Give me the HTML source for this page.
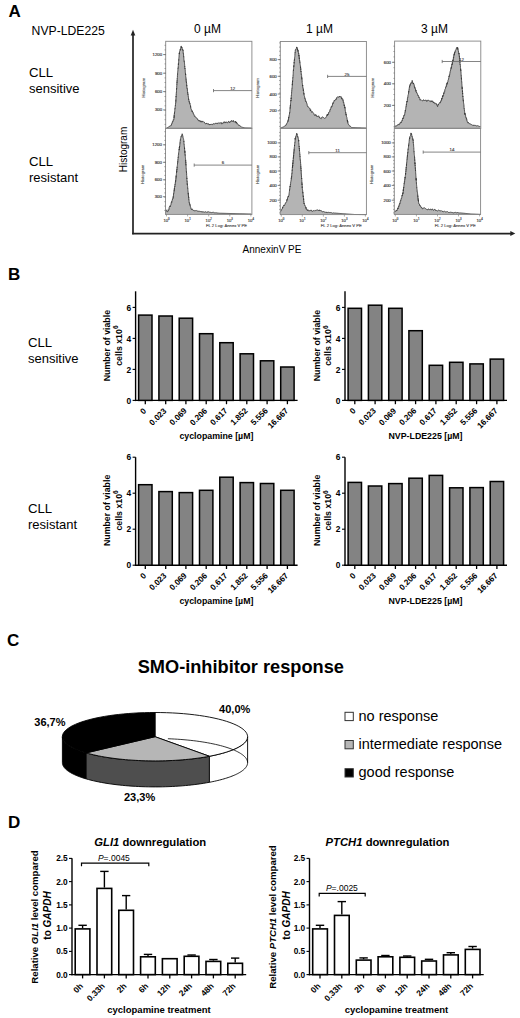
<!DOCTYPE html>
<html><head><meta charset="utf-8"><title>Figure</title>
<style>
html,body{margin:0;padding:0;background:#fff;}
body{width:520px;height:1018px;overflow:hidden;}
svg{display:block;font-family:"Liberation Sans", sans-serif;}
</style></head>
<body>
<svg width="520" height="1018" viewBox="0 0 520 1018">
<rect width="520" height="1018" fill="#fff"/>
<text x="8.4" y="16.9" font-size="17" font-weight="bold" text-anchor="start" fill="#000">A</text>
<text x="31.6" y="35.3" font-size="12.2" text-anchor="start" fill="#000">NVP-LDE225</text>
<text x="29" y="76.8" font-size="13.2" text-anchor="start" fill="#000">CLL</text>
<text x="29" y="92.5" font-size="13" text-anchor="start" fill="#000">sensitive</text>
<text x="29" y="165.8" font-size="13.2" text-anchor="start" fill="#000">CLL</text>
<text x="29" y="182" font-size="13" text-anchor="start" fill="#000">resistant</text>
<text x="207.5" y="33.3" font-size="12" text-anchor="middle" fill="#000">0 µM</text>
<text x="319.5" y="33.3" font-size="12" text-anchor="middle" fill="#000">1 µM</text>
<text x="434.5" y="33.3" font-size="12" text-anchor="middle" fill="#000">3 µM</text>
<line x1="133" y1="34" x2="133" y2="234.3" stroke="#222" stroke-width="1.7"/>
<path d="M133 29.8 L130.7 35.6 L135.3 35.6 Z" fill="#222"/>
<line x1="132.15" y1="233.6" x2="511.5" y2="233.6" stroke="#222" stroke-width="1.7"/>
<path d="M515.3 233.6 L510.3 231.1 L510.3 236.1 Z" fill="#222"/>
<text x="126.8" y="149.5" font-size="10" text-anchor="middle" fill="#000" transform="rotate(-90 126.8 149.5)">Histogram</text>
<text x="272" y="252.9" font-size="10" text-anchor="middle" fill="#000">AnnexinV PE</text>
<path d="M166.5 128.3 L166.5 128.1 L167.01 127.83 L167.52 127.57 L168.03 127.3 L168.54 127.03 L169.06 126.68 L169.57 126.29 L170.08 126.34 L170.59 125.63 L171.1 125.73 L171.32 125.02 L171.55 124.07 L171.78 124.09 L172.0 122.8 L172.22 122.87 L172.45 121.61 L172.68 121.09 L172.9 121.22 L173.12 121.48 L173.35 119.53 L173.58 119.19 L173.8 119.45 L173.86 119.54 L173.93 118.25 L173.99 117.33 L174.05 117.94 L174.12 115.53 L174.18 116.6 L174.24 114.91 L174.31 114.06 L174.37 113.46 L174.43 113.28 L174.5 113.75 L174.56 111.92 L174.62 112.17 L174.69 111.73 L174.75 110.64 L174.81 110.44 L174.88 108.92 L174.94 108.36 L175.0 108.1 L175.07 108.49 L175.13 107.44 L175.19 106.65 L175.26 106.64 L175.32 105.83 L175.38 104.97 L175.45 105.4 L175.51 104.66 L175.57 103.19 L175.64 103.3 L175.7 102.65 L175.74 102.8 L175.77 101.95 L175.81 100.51 L175.84 101.34 L175.88 99.07 L175.92 99.11 L175.95 99.24 L175.99 97.47 L176.02 97.59 L176.06 96.14 L176.1 96.84 L176.13 96.48 L176.17 95.54 L176.2 95.59 L176.24 93.92 L176.28 94.13 L176.31 93.37 L176.35 92.79 L176.38 91.99 L176.42 92.2 L176.46 91.86 L176.49 90.36 L176.53 90.19 L176.56 88.43 L176.6 89.15 L176.64 88.49 L176.67 88.63 L176.71 87.73 L176.74 86.1 L176.78 85.75 L176.82 85.76 L176.85 83.92 L176.89 84.24 L176.92 83.1 L176.96 82.44 L177.0 81.77 L177.03 82.64 L177.07 80.81 L177.1 80.49 L177.14 80.22 L177.18 80.63 L177.21 78.49 L177.25 78.68 L177.28 78.32 L177.32 78.44 L177.36 77.75 L177.39 77.29 L177.43 75.56 L177.46 75.28 L177.5 74.62 L177.55 75.12 L177.59 74.71 L177.64 72.54 L177.69 72.04 L177.74 71.6 L177.78 71.05 L177.83 71.0 L177.88 70.66 L177.93 69.45 L177.97 68.38 L178.02 68.66 L178.07 68.01 L178.12 67.85 L178.16 68.07 L178.21 66.99 L178.26 66.09 L178.31 65.74 L178.35 65.31 L178.4 63.51 L178.45 64.65 L178.5 63.86 L178.55 63.49 L178.59 62.79 L178.64 61.42 L178.69 60.89 L178.74 59.74 L178.78 60.25 L178.83 58.55 L178.88 58.01 L178.93 57.74 L178.97 57.1 L179.02 56.9 L179.07 55.77 L179.12 55.12 L179.16 54.87 L179.21 54.21 L179.26 54.18 L179.31 52.96 L179.35 54.1 L179.4 53.03 L179.55 51.56 L179.7 51.22 L179.85 50.87 L180.0 50.36 L180.15 49.34 L180.3 50.25 L180.45 49.99 L180.6 48.4 L180.75 47.89 L180.9 46.56 L181.05 46.05 L181.2 45.99 L181.41 46.34 L181.62 47.98 L181.83 47.16 L182.04 47.39 L182.26 49.76 L182.47 49.42 L182.68 49.17 L182.89 50.48 L183.1 49.95 L183.16 51.51 L183.22 52.96 L183.28 53.29 L183.34 53.51 L183.4 53.19 L183.46 53.95 L183.52 54.11 L183.58 55.87 L183.64 55.95 L183.7 56.99 L183.76 56.65 L183.82 56.99 L183.88 58.72 L183.94 59.62 L184.0 59.91 L184.06 60.37 L184.12 60.94 L184.18 61.34 L184.24 60.87 L184.3 62.0 L184.36 62.23 L184.42 62.13 L184.48 62.68 L184.54 63.74 L184.6 64.25 L184.66 65.67 L184.72 66.75 L184.78 66.29 L184.84 67.82 L184.9 68.48 L184.96 68.97 L185.02 68.35 L185.07 68.62 L185.13 69.2 L185.19 69.7 L185.25 70.27 L185.3 71.67 L185.36 72.79 L185.42 73.23 L185.48 73.07 L185.53 73.97 L185.59 74.83 L185.65 73.96 L185.71 75.67 L185.76 76.73 L185.82 77.03 L185.88 77.53 L185.94 77.55 L185.99 77.51 L186.05 79.29 L186.11 78.94 L186.17 80.43 L186.22 81.34 L186.28 80.75 L186.34 81.32 L186.4 82.97 L186.45 83.09 L186.51 82.54 L186.57 83.01 L186.63 83.62 L186.68 85.69 L186.74 86.05 L186.8 85.29 L186.88 87.21 L186.96 88.08 L187.03 88.0 L187.11 87.94 L187.19 88.9 L187.27 88.63 L187.35 88.95 L187.43 91.43 L187.5 91.35 L187.58 91.66 L187.66 93.04 L187.74 92.6 L187.82 94.03 L187.9 94.5 L187.97 93.84 L188.05 94.48 L188.13 95.12 L188.21 95.58 L188.29 96.83 L188.37 96.74 L188.44 97.62 L188.52 97.6 L188.6 99.72 L188.74 99.16 L188.88 99.93 L189.02 100.73 L189.16 101.93 L189.3 101.52 L189.44 103.07 L189.58 102.79 L189.72 103.4 L189.86 103.94 L190.0 103.49 L190.14 104.89 L190.28 104.93 L190.42 105.12 L190.56 107.27 L190.7 106.57 L190.84 107.73 L190.98 108.79 L191.12 109.0 L191.26 109.1 L191.4 110.04 L191.68 110.61 L191.97 111.57 L192.25 110.71 L192.54 112.12 L192.82 112.0 L193.11 112.55 L193.39 114.04 L193.68 114.02 L193.96 114.62 L194.25 115.52 L194.53 116.32 L194.82 115.89 L195.1 116.73 L195.51 116.92 L195.92 117.35 L196.33 118.12 L196.74 118.05 L197.16 118.62 L197.57 118.92 L197.98 120.26 L198.39 120.19 L198.8 120.95 L199.3 121.33 L199.8 120.21 L200.3 121.06 L200.8 122.07 L201.3 122.11 L201.8 120.95 L202.3 121.16 L202.8 122.05 L203.3 121.57 L203.8 122.17 L204.3 122.13 L204.85 123.35 L205.4 123.68 L205.95 124.01 L206.5 122.95 L207.05 123.98 L207.6 124.04 L208.15 123.43 L208.7 124.64 L209.25 124.88 L209.8 124.04 L210.36 124.94 L210.92 124.14 L211.48 124.2 L212.04 124.84 L212.6 124.57 L213.16 123.56 L213.72 123.88 L214.28 123.94 L214.84 123.62 L215.4 123.34 L215.97 123.45 L216.54 124.01 L217.11 122.84 L217.68 123.61 L218.25 123.36 L218.82 122.6 L219.38 123.04 L219.95 123.45 L220.52 123.2 L221.09 122.35 L221.66 123.89 L222.23 123.48 L222.8 123.75 L223.35 122.09 L223.9 122.28 L224.45 121.76 L225.0 123.08 L225.55 122.0 L226.1 121.63 L226.65 122.11 L227.2 123.0 L227.75 122.73 L228.3 121.52 L228.85 121.21 L229.4 122.66 L229.95 121.87 L230.5 122.04 L231.05 120.73 L231.6 120.58 L232.15 121.75 L232.7 121.13 L233.25 120.33 L233.8 121.98 L234.43 121.67 L235.07 122.3 L235.7 121.17 L236.1 123.1 L236.5 122.01 L236.9 123.82 L237.3 123.53 L237.7 123.77 L238.1 124.47 L238.5 125.3 L238.95 124.92 L239.4 125.19 L239.85 125.92 L240.3 126.09 L240.75 126.42 L241.2 127.0 L241.82 127.15 L242.43 127.3 L243.05 127.45 L243.67 127.6 L244.28 127.75 L244.9 127.9 L245.45 127.92 L246.0 127.93 L246.55 127.95 L247.1 127.97 L247.65 127.98 L248.2 128.0 L248.75 128.02 L249.3 128.03 L249.85 128.05 L250.4 128.07 L250.95 128.08 L251.5 128.1 L251.5 128.3 Z" fill="#b4b4b4" stroke="none"/>
<path d="M166.5 128.1 L167.01 127.83 L167.52 127.57 L168.03 127.3 L168.54 127.03 L169.06 126.68 L169.57 126.29 L170.08 126.34 L170.59 125.63 L171.1 125.73 L171.32 125.02 L171.55 124.07 L171.78 124.09 L172.0 122.8 L172.22 122.87 L172.45 121.61 L172.68 121.09 L172.9 121.22 L173.12 121.48 L173.35 119.53 L173.58 119.19 L173.8 119.45 L173.86 119.54 L173.93 118.25 L173.99 117.33 L174.05 117.94 L174.12 115.53 L174.18 116.6 L174.24 114.91 L174.31 114.06 L174.37 113.46 L174.43 113.28 L174.5 113.75 L174.56 111.92 L174.62 112.17 L174.69 111.73 L174.75 110.64 L174.81 110.44 L174.88 108.92 L174.94 108.36 L175.0 108.1 L175.07 108.49 L175.13 107.44 L175.19 106.65 L175.26 106.64 L175.32 105.83 L175.38 104.97 L175.45 105.4 L175.51 104.66 L175.57 103.19 L175.64 103.3 L175.7 102.65 L175.74 102.8 L175.77 101.95 L175.81 100.51 L175.84 101.34 L175.88 99.07 L175.92 99.11 L175.95 99.24 L175.99 97.47 L176.02 97.59 L176.06 96.14 L176.1 96.84 L176.13 96.48 L176.17 95.54 L176.2 95.59 L176.24 93.92 L176.28 94.13 L176.31 93.37 L176.35 92.79 L176.38 91.99 L176.42 92.2 L176.46 91.86 L176.49 90.36 L176.53 90.19 L176.56 88.43 L176.6 89.15 L176.64 88.49 L176.67 88.63 L176.71 87.73 L176.74 86.1 L176.78 85.75 L176.82 85.76 L176.85 83.92 L176.89 84.24 L176.92 83.1 L176.96 82.44 L177.0 81.77 L177.03 82.64 L177.07 80.81 L177.1 80.49 L177.14 80.22 L177.18 80.63 L177.21 78.49 L177.25 78.68 L177.28 78.32 L177.32 78.44 L177.36 77.75 L177.39 77.29 L177.43 75.56 L177.46 75.28 L177.5 74.62 L177.55 75.12 L177.59 74.71 L177.64 72.54 L177.69 72.04 L177.74 71.6 L177.78 71.05 L177.83 71.0 L177.88 70.66 L177.93 69.45 L177.97 68.38 L178.02 68.66 L178.07 68.01 L178.12 67.85 L178.16 68.07 L178.21 66.99 L178.26 66.09 L178.31 65.74 L178.35 65.31 L178.4 63.51 L178.45 64.65 L178.5 63.86 L178.55 63.49 L178.59 62.79 L178.64 61.42 L178.69 60.89 L178.74 59.74 L178.78 60.25 L178.83 58.55 L178.88 58.01 L178.93 57.74 L178.97 57.1 L179.02 56.9 L179.07 55.77 L179.12 55.12 L179.16 54.87 L179.21 54.21 L179.26 54.18 L179.31 52.96 L179.35 54.1 L179.4 53.03 L179.55 51.56 L179.7 51.22 L179.85 50.87 L180.0 50.36 L180.15 49.34 L180.3 50.25 L180.45 49.99 L180.6 48.4 L180.75 47.89 L180.9 46.56 L181.05 46.05 L181.2 45.99 L181.41 46.34 L181.62 47.98 L181.83 47.16 L182.04 47.39 L182.26 49.76 L182.47 49.42 L182.68 49.17 L182.89 50.48 L183.1 49.95 L183.16 51.51 L183.22 52.96 L183.28 53.29 L183.34 53.51 L183.4 53.19 L183.46 53.95 L183.52 54.11 L183.58 55.87 L183.64 55.95 L183.7 56.99 L183.76 56.65 L183.82 56.99 L183.88 58.72 L183.94 59.62 L184.0 59.91 L184.06 60.37 L184.12 60.94 L184.18 61.34 L184.24 60.87 L184.3 62.0 L184.36 62.23 L184.42 62.13 L184.48 62.68 L184.54 63.74 L184.6 64.25 L184.66 65.67 L184.72 66.75 L184.78 66.29 L184.84 67.82 L184.9 68.48 L184.96 68.97 L185.02 68.35 L185.07 68.62 L185.13 69.2 L185.19 69.7 L185.25 70.27 L185.3 71.67 L185.36 72.79 L185.42 73.23 L185.48 73.07 L185.53 73.97 L185.59 74.83 L185.65 73.96 L185.71 75.67 L185.76 76.73 L185.82 77.03 L185.88 77.53 L185.94 77.55 L185.99 77.51 L186.05 79.29 L186.11 78.94 L186.17 80.43 L186.22 81.34 L186.28 80.75 L186.34 81.32 L186.4 82.97 L186.45 83.09 L186.51 82.54 L186.57 83.01 L186.63 83.62 L186.68 85.69 L186.74 86.05 L186.8 85.29 L186.88 87.21 L186.96 88.08 L187.03 88.0 L187.11 87.94 L187.19 88.9 L187.27 88.63 L187.35 88.95 L187.43 91.43 L187.5 91.35 L187.58 91.66 L187.66 93.04 L187.74 92.6 L187.82 94.03 L187.9 94.5 L187.97 93.84 L188.05 94.48 L188.13 95.12 L188.21 95.58 L188.29 96.83 L188.37 96.74 L188.44 97.62 L188.52 97.6 L188.6 99.72 L188.74 99.16 L188.88 99.93 L189.02 100.73 L189.16 101.93 L189.3 101.52 L189.44 103.07 L189.58 102.79 L189.72 103.4 L189.86 103.94 L190.0 103.49 L190.14 104.89 L190.28 104.93 L190.42 105.12 L190.56 107.27 L190.7 106.57 L190.84 107.73 L190.98 108.79 L191.12 109.0 L191.26 109.1 L191.4 110.04 L191.68 110.61 L191.97 111.57 L192.25 110.71 L192.54 112.12 L192.82 112.0 L193.11 112.55 L193.39 114.04 L193.68 114.02 L193.96 114.62 L194.25 115.52 L194.53 116.32 L194.82 115.89 L195.1 116.73 L195.51 116.92 L195.92 117.35 L196.33 118.12 L196.74 118.05 L197.16 118.62 L197.57 118.92 L197.98 120.26 L198.39 120.19 L198.8 120.95 L199.3 121.33 L199.8 120.21 L200.3 121.06 L200.8 122.07 L201.3 122.11 L201.8 120.95 L202.3 121.16 L202.8 122.05 L203.3 121.57 L203.8 122.17 L204.3 122.13 L204.85 123.35 L205.4 123.68 L205.95 124.01 L206.5 122.95 L207.05 123.98 L207.6 124.04 L208.15 123.43 L208.7 124.64 L209.25 124.88 L209.8 124.04 L210.36 124.94 L210.92 124.14 L211.48 124.2 L212.04 124.84 L212.6 124.57 L213.16 123.56 L213.72 123.88 L214.28 123.94 L214.84 123.62 L215.4 123.34 L215.97 123.45 L216.54 124.01 L217.11 122.84 L217.68 123.61 L218.25 123.36 L218.82 122.6 L219.38 123.04 L219.95 123.45 L220.52 123.2 L221.09 122.35 L221.66 123.89 L222.23 123.48 L222.8 123.75 L223.35 122.09 L223.9 122.28 L224.45 121.76 L225.0 123.08 L225.55 122.0 L226.1 121.63 L226.65 122.11 L227.2 123.0 L227.75 122.73 L228.3 121.52 L228.85 121.21 L229.4 122.66 L229.95 121.87 L230.5 122.04 L231.05 120.73 L231.6 120.58 L232.15 121.75 L232.7 121.13 L233.25 120.33 L233.8 121.98 L234.43 121.67 L235.07 122.3 L235.7 121.17 L236.1 123.1 L236.5 122.01 L236.9 123.82 L237.3 123.53 L237.7 123.77 L238.1 124.47 L238.5 125.3 L238.95 124.92 L239.4 125.19 L239.85 125.92 L240.3 126.09 L240.75 126.42 L241.2 127.0 L241.82 127.15 L242.43 127.3 L243.05 127.45 L243.67 127.6 L244.28 127.75 L244.9 127.9 L245.45 127.92 L246.0 127.93 L246.55 127.95 L247.1 127.97 L247.65 127.98 L248.2 128.0 L248.75 128.02 L249.3 128.03 L249.85 128.05 L250.4 128.07 L250.95 128.08 L251.5 128.1" fill="none" stroke="#333" stroke-width="0.85"/>
<rect x="165.7" y="41.3" width="86.2" height="87.0" fill="none" stroke="#858585" stroke-width="0.9"/>
<line x1="213.5" y1="90.6" x2="251.9" y2="90.6" stroke="#666" stroke-width="0.8"/>
<line x1="213.5" y1="89.0" x2="213.5" y2="92.19999999999999" stroke="#666" stroke-width="0.8"/>
<text x="232.7" y="89.8" font-size="4.4" text-anchor="middle" fill="#444" stroke="#444" stroke-width="0.15">12</text>
<line x1="163.1" y1="54.6" x2="165.7" y2="54.6" stroke="#555" stroke-width="0.7"/>
<text x="162.1" y="56.1" font-size="4.3" text-anchor="end" fill="#444" stroke="#444" stroke-width="0.18">1200</text>
<line x1="163.1" y1="73.2" x2="165.7" y2="73.2" stroke="#555" stroke-width="0.7"/>
<text x="162.1" y="74.7" font-size="4.3" text-anchor="end" fill="#444" stroke="#444" stroke-width="0.18">900</text>
<line x1="163.1" y1="91.6" x2="165.7" y2="91.6" stroke="#555" stroke-width="0.7"/>
<text x="162.1" y="93.1" font-size="4.3" text-anchor="end" fill="#444" stroke="#444" stroke-width="0.18">600</text>
<line x1="163.1" y1="109.9" x2="165.7" y2="109.9" stroke="#555" stroke-width="0.7"/>
<text x="162.1" y="111.4" font-size="4.3" text-anchor="end" fill="#444" stroke="#444" stroke-width="0.18">300</text>
<line x1="164.5" y1="45.3" x2="165.7" y2="45.3" stroke="#666" stroke-width="0.6"/>
<line x1="164.5" y1="49.9" x2="165.7" y2="49.9" stroke="#666" stroke-width="0.6"/>
<line x1="164.5" y1="54.6" x2="165.7" y2="54.6" stroke="#666" stroke-width="0.6"/>
<line x1="164.5" y1="59.2" x2="165.7" y2="59.2" stroke="#666" stroke-width="0.6"/>
<line x1="164.5" y1="63.9" x2="165.7" y2="63.9" stroke="#666" stroke-width="0.6"/>
<line x1="164.5" y1="68.5" x2="165.7" y2="68.5" stroke="#666" stroke-width="0.6"/>
<line x1="164.5" y1="73.2" x2="165.7" y2="73.2" stroke="#666" stroke-width="0.6"/>
<line x1="164.5" y1="77.9" x2="165.7" y2="77.9" stroke="#666" stroke-width="0.6"/>
<line x1="164.5" y1="82.5" x2="165.7" y2="82.5" stroke="#666" stroke-width="0.6"/>
<line x1="164.5" y1="87.2" x2="165.7" y2="87.2" stroke="#666" stroke-width="0.6"/>
<line x1="164.5" y1="91.8" x2="165.7" y2="91.8" stroke="#666" stroke-width="0.6"/>
<line x1="164.5" y1="96.5" x2="165.7" y2="96.5" stroke="#666" stroke-width="0.6"/>
<line x1="164.5" y1="101.1" x2="165.7" y2="101.1" stroke="#666" stroke-width="0.6"/>
<line x1="164.5" y1="105.8" x2="165.7" y2="105.8" stroke="#666" stroke-width="0.6"/>
<line x1="164.5" y1="110.4" x2="165.7" y2="110.4" stroke="#666" stroke-width="0.6"/>
<line x1="164.5" y1="115.1" x2="165.7" y2="115.1" stroke="#666" stroke-width="0.6"/>
<line x1="164.5" y1="119.7" x2="165.7" y2="119.7" stroke="#666" stroke-width="0.6"/>
<line x1="164.5" y1="124.4" x2="165.7" y2="124.4" stroke="#666" stroke-width="0.6"/>
<text x="144.7" y="87.80000000000001" font-size="4.3" text-anchor="middle" fill="#555" transform="rotate(-90 144.7 87.80000000000001)" stroke="#555" stroke-width="0.12">Histogram</text>
<path d="M280.5 128.3 L280.5 128.1 L281.02 127.89 L281.54 127.68 L282.07 127.47 L282.59 127.26 L283.11 127.04 L283.63 126.83 L284.16 126.43 L284.68 126.13 L285.2 125.99 L285.5 125.57 L285.8 125.07 L286.1 125.1 L286.4 124.06 L286.7 123.87 L287.0 122.87 L287.3 122.66 L287.6 121.53 L287.9 121.5 L288.01 120.46 L288.11 121.33 L288.22 120.4 L288.32 119.11 L288.43 119.12 L288.53 119.47 L288.64 117.25 L288.74 118.1 L288.85 116.76 L288.96 116.32 L289.06 116.44 L289.17 114.99 L289.27 114.65 L289.38 114.44 L289.48 114.46 L289.59 112.62 L289.69 113.03 L289.8 112.21 L289.85 111.51 L289.91 110.49 L289.96 109.82 L290.02 108.68 L290.07 108.27 L290.13 107.6 L290.18 108.38 L290.24 106.85 L290.29 106.11 L290.35 105.39 L290.4 106.35 L290.45 105.85 L290.51 104.89 L290.56 103.56 L290.62 102.92 L290.67 102.46 L290.73 102.24 L290.78 101.08 L290.84 101.1 L290.89 100.17 L290.95 101.01 L291.0 100.48 L291.05 99.07 L291.11 97.91 L291.16 98.79 L291.22 96.92 L291.27 96.46 L291.33 95.19 L291.38 95.39 L291.44 95.02 L291.49 94.52 L291.55 93.36 L291.6 93.41 L291.64 91.85 L291.69 91.81 L291.73 90.91 L291.78 90.97 L291.82 89.69 L291.87 89.1 L291.91 89.1 L291.95 88.4 L292.0 88.55 L292.04 87.88 L292.09 87.76 L292.13 87.02 L292.17 86.58 L292.22 86.34 L292.26 84.81 L292.31 84.12 L292.35 84.88 L292.4 82.65 L292.44 83.24 L292.48 82.52 L292.53 80.77 L292.57 81.79 L292.62 81.35 L292.66 80.26 L292.7 79.91 L292.75 79.51 L292.79 77.61 L292.84 77.82 L292.88 77.22 L292.93 77.33 L292.97 76.71 L293.01 76.19 L293.06 75.15 L293.1 75.21 L293.15 74.23 L293.19 73.69 L293.23 72.21 L293.28 71.25 L293.32 70.9 L293.37 70.8 L293.41 69.73 L293.46 70.63 L293.5 69.52 L293.55 69.09 L293.61 68.53 L293.66 68.08 L293.72 67.14 L293.77 65.6 L293.83 66.63 L293.88 65.97 L293.94 64.92 L293.99 64.42 L294.05 64.11 L294.1 62.37 L294.15 63.15 L294.21 61.62 L294.26 60.7 L294.32 60.52 L294.37 60.89 L294.43 59.28 L294.48 59.79 L294.54 59.7 L294.59 58.18 L294.65 57.39 L294.7 57.02 L294.75 56.87 L294.81 56.48 L294.86 55.62 L294.92 55.11 L294.97 53.42 L295.03 53.0 L295.08 52.65 L295.14 53.07 L295.19 51.63 L295.25 51.6 L295.3 49.92 L295.51 49.45 L295.73 49.29 L295.94 49.53 L296.16 49.0 L296.37 48.39 L296.59 47.05 L296.8 46.93 L296.96 47.37 L297.13 47.91 L297.29 47.75 L297.45 49.83 L297.62 48.98 L297.78 51.07 L297.95 51.53 L298.11 50.23 L298.27 51.65 L298.44 52.9 L298.6 53.74 L298.67 53.25 L298.75 53.44 L298.82 53.88 L298.89 55.9 L298.97 54.99 L299.04 56.28 L299.11 55.96 L299.19 57.27 L299.26 58.69 L299.33 57.6 L299.41 59.53 L299.48 59.46 L299.55 60.77 L299.63 60.95 L299.7 60.56 L299.77 62.45 L299.85 62.18 L299.92 61.81 L299.99 62.32 L300.07 63.85 L300.14 64.32 L300.21 64.58 L300.29 64.81 L300.36 65.77 L300.43 66.27 L300.51 67.87 L300.58 66.74 L300.65 68.79 L300.73 69.52 L300.8 68.64 L300.86 70.81 L300.93 70.93 L300.99 71.86 L301.05 71.19 L301.12 71.91 L301.18 72.51 L301.24 74.27 L301.31 74.01 L301.37 74.1 L301.43 74.79 L301.5 75.04 L301.56 75.14 L301.62 75.8 L301.69 77.82 L301.75 77.27 L301.81 79.12 L301.88 78.31 L301.94 78.89 L302.0 79.94 L302.07 79.85 L302.13 80.77 L302.19 82.49 L302.26 82.9 L302.32 83.3 L302.38 83.5 L302.45 84.61 L302.51 85.22 L302.57 84.99 L302.64 85.89 L302.7 85.1 L302.79 87.02 L302.88 87.01 L302.97 88.17 L303.06 88.51 L303.15 88.35 L303.24 88.43 L303.33 90.74 L303.42 89.69 L303.51 90.94 L303.6 91.24 L303.69 91.7 L303.78 93.14 L303.87 94.17 L303.96 93.29 L304.05 94.64 L304.14 94.48 L304.23 95.55 L304.32 95.78 L304.41 95.88 L304.5 96.42 L304.69 97.07 L304.87 99.02 L305.06 98.75 L305.25 98.75 L305.43 100.68 L305.62 101.41 L305.81 100.87 L305.99 100.81 L306.18 101.46 L306.37 101.81 L306.55 102.87 L306.74 102.92 L306.93 103.77 L307.11 104.36 L307.3 105.54 L307.61 106.63 L307.92 106.82 L308.23 106.6 L308.53 107.06 L308.84 107.74 L309.15 107.9 L309.46 108.28 L309.77 108.19 L310.07 109.08 L310.38 110.92 L310.69 109.69 L311.0 110.91 L311.42 111.58 L311.84 112.46 L312.25 111.59 L312.67 112.11 L313.09 112.49 L313.51 113.21 L313.93 113.72 L314.35 115.15 L314.76 115.36 L315.18 115.83 L315.6 114.54 L316.11 114.77 L316.62 116.34 L317.13 116.92 L317.64 116.28 L318.15 116.72 L318.65 115.75 L319.16 116.75 L319.67 118.03 L320.18 118.03 L320.69 118.3 L321.2 118.74 L321.77 117.25 L322.35 116.92 L322.93 116.96 L323.5 117.64 L324.07 117.91 L324.65 118.38 L325.23 117.89 L325.8 117.69 L326.11 117.46 L326.42 116.38 L326.73 116.1 L327.03 114.61 L327.34 115.63 L327.65 114.07 L327.96 114.97 L328.27 113.96 L328.57 112.81 L328.88 111.99 L329.19 111.77 L329.5 112.07 L329.71 111.69 L329.91 110.0 L330.12 109.41 L330.32 109.8 L330.53 109.41 L330.73 108.51 L330.94 107.67 L331.14 107.91 L331.35 106.22 L331.56 106.29 L331.76 106.1 L331.97 106.58 L332.17 105.44 L332.38 105.41 L332.58 104.08 L332.79 103.09 L332.99 102.61 L333.2 103.52 L333.56 102.55 L333.92 101.29 L334.28 100.26 L334.64 100.76 L335.0 100.65 L335.36 99.68 L335.72 98.89 L336.08 99.25 L336.44 99.31 L336.8 97.45 L337.33 96.81 L337.86 97.16 L338.39 97.07 L338.91 97.34 L339.44 96.11 L339.97 97.05 L340.5 96.68 L340.84 96.72 L341.19 96.64 L341.53 98.68 L341.87 97.88 L342.21 99.41 L342.56 98.75 L342.9 99.24 L343.05 100.89 L343.19 100.53 L343.34 102.41 L343.48 102.07 L343.63 102.02 L343.78 102.66 L343.92 103.62 L344.07 104.68 L344.22 105.82 L344.36 104.79 L344.51 105.85 L344.65 106.06 L344.8 108.15 L344.9 107.05 L345.0 107.44 L345.1 108.02 L345.2 109.25 L345.3 110.83 L345.4 111.37 L345.5 111.63 L345.6 112.73 L345.7 113.16 L345.8 112.53 L345.9 112.8 L346.0 114.87 L346.1 115.06 L346.2 114.2 L346.3 116.03 L346.4 116.02 L346.5 116.58 L346.6 117.06 L346.75 117.31 L346.89 117.54 L347.04 118.67 L347.18 119.38 L347.33 121.16 L347.48 120.06 L347.62 122.31 L347.77 121.37 L347.92 122.25 L348.06 123.65 L348.21 124.16 L348.35 124.14 L348.5 124.27 L348.94 125.16 L349.39 125.46 L349.83 126.28 L350.27 126.14 L350.71 126.66 L351.16 127.11 L351.6 127.5 L352.16 127.52 L352.72 127.55 L353.28 127.57 L353.85 127.59 L354.41 127.62 L354.97 127.64 L355.53 127.66 L356.09 127.68 L356.65 127.71 L357.22 127.73 L357.78 127.75 L358.34 127.78 L358.9 127.8 L359.46 127.82 L360.02 127.85 L360.58 127.87 L361.15 127.89 L361.71 127.92 L362.27 127.94 L362.83 127.96 L363.39 127.98 L363.95 128.01 L364.52 128.03 L365.08 128.05 L365.64 128.08 L366.2 128.1 L366.2 128.3 Z" fill="#b4b4b4" stroke="none"/>
<path d="M280.5 128.1 L281.02 127.89 L281.54 127.68 L282.07 127.47 L282.59 127.26 L283.11 127.04 L283.63 126.83 L284.16 126.43 L284.68 126.13 L285.2 125.99 L285.5 125.57 L285.8 125.07 L286.1 125.1 L286.4 124.06 L286.7 123.87 L287.0 122.87 L287.3 122.66 L287.6 121.53 L287.9 121.5 L288.01 120.46 L288.11 121.33 L288.22 120.4 L288.32 119.11 L288.43 119.12 L288.53 119.47 L288.64 117.25 L288.74 118.1 L288.85 116.76 L288.96 116.32 L289.06 116.44 L289.17 114.99 L289.27 114.65 L289.38 114.44 L289.48 114.46 L289.59 112.62 L289.69 113.03 L289.8 112.21 L289.85 111.51 L289.91 110.49 L289.96 109.82 L290.02 108.68 L290.07 108.27 L290.13 107.6 L290.18 108.38 L290.24 106.85 L290.29 106.11 L290.35 105.39 L290.4 106.35 L290.45 105.85 L290.51 104.89 L290.56 103.56 L290.62 102.92 L290.67 102.46 L290.73 102.24 L290.78 101.08 L290.84 101.1 L290.89 100.17 L290.95 101.01 L291.0 100.48 L291.05 99.07 L291.11 97.91 L291.16 98.79 L291.22 96.92 L291.27 96.46 L291.33 95.19 L291.38 95.39 L291.44 95.02 L291.49 94.52 L291.55 93.36 L291.6 93.41 L291.64 91.85 L291.69 91.81 L291.73 90.91 L291.78 90.97 L291.82 89.69 L291.87 89.1 L291.91 89.1 L291.95 88.4 L292.0 88.55 L292.04 87.88 L292.09 87.76 L292.13 87.02 L292.17 86.58 L292.22 86.34 L292.26 84.81 L292.31 84.12 L292.35 84.88 L292.4 82.65 L292.44 83.24 L292.48 82.52 L292.53 80.77 L292.57 81.79 L292.62 81.35 L292.66 80.26 L292.7 79.91 L292.75 79.51 L292.79 77.61 L292.84 77.82 L292.88 77.22 L292.93 77.33 L292.97 76.71 L293.01 76.19 L293.06 75.15 L293.1 75.21 L293.15 74.23 L293.19 73.69 L293.23 72.21 L293.28 71.25 L293.32 70.9 L293.37 70.8 L293.41 69.73 L293.46 70.63 L293.5 69.52 L293.55 69.09 L293.61 68.53 L293.66 68.08 L293.72 67.14 L293.77 65.6 L293.83 66.63 L293.88 65.97 L293.94 64.92 L293.99 64.42 L294.05 64.11 L294.1 62.37 L294.15 63.15 L294.21 61.62 L294.26 60.7 L294.32 60.52 L294.37 60.89 L294.43 59.28 L294.48 59.79 L294.54 59.7 L294.59 58.18 L294.65 57.39 L294.7 57.02 L294.75 56.87 L294.81 56.48 L294.86 55.62 L294.92 55.11 L294.97 53.42 L295.03 53.0 L295.08 52.65 L295.14 53.07 L295.19 51.63 L295.25 51.6 L295.3 49.92 L295.51 49.45 L295.73 49.29 L295.94 49.53 L296.16 49.0 L296.37 48.39 L296.59 47.05 L296.8 46.93 L296.96 47.37 L297.13 47.91 L297.29 47.75 L297.45 49.83 L297.62 48.98 L297.78 51.07 L297.95 51.53 L298.11 50.23 L298.27 51.65 L298.44 52.9 L298.6 53.74 L298.67 53.25 L298.75 53.44 L298.82 53.88 L298.89 55.9 L298.97 54.99 L299.04 56.28 L299.11 55.96 L299.19 57.27 L299.26 58.69 L299.33 57.6 L299.41 59.53 L299.48 59.46 L299.55 60.77 L299.63 60.95 L299.7 60.56 L299.77 62.45 L299.85 62.18 L299.92 61.81 L299.99 62.32 L300.07 63.85 L300.14 64.32 L300.21 64.58 L300.29 64.81 L300.36 65.77 L300.43 66.27 L300.51 67.87 L300.58 66.74 L300.65 68.79 L300.73 69.52 L300.8 68.64 L300.86 70.81 L300.93 70.93 L300.99 71.86 L301.05 71.19 L301.12 71.91 L301.18 72.51 L301.24 74.27 L301.31 74.01 L301.37 74.1 L301.43 74.79 L301.5 75.04 L301.56 75.14 L301.62 75.8 L301.69 77.82 L301.75 77.27 L301.81 79.12 L301.88 78.31 L301.94 78.89 L302.0 79.94 L302.07 79.85 L302.13 80.77 L302.19 82.49 L302.26 82.9 L302.32 83.3 L302.38 83.5 L302.45 84.61 L302.51 85.22 L302.57 84.99 L302.64 85.89 L302.7 85.1 L302.79 87.02 L302.88 87.01 L302.97 88.17 L303.06 88.51 L303.15 88.35 L303.24 88.43 L303.33 90.74 L303.42 89.69 L303.51 90.94 L303.6 91.24 L303.69 91.7 L303.78 93.14 L303.87 94.17 L303.96 93.29 L304.05 94.64 L304.14 94.48 L304.23 95.55 L304.32 95.78 L304.41 95.88 L304.5 96.42 L304.69 97.07 L304.87 99.02 L305.06 98.75 L305.25 98.75 L305.43 100.68 L305.62 101.41 L305.81 100.87 L305.99 100.81 L306.18 101.46 L306.37 101.81 L306.55 102.87 L306.74 102.92 L306.93 103.77 L307.11 104.36 L307.3 105.54 L307.61 106.63 L307.92 106.82 L308.23 106.6 L308.53 107.06 L308.84 107.74 L309.15 107.9 L309.46 108.28 L309.77 108.19 L310.07 109.08 L310.38 110.92 L310.69 109.69 L311.0 110.91 L311.42 111.58 L311.84 112.46 L312.25 111.59 L312.67 112.11 L313.09 112.49 L313.51 113.21 L313.93 113.72 L314.35 115.15 L314.76 115.36 L315.18 115.83 L315.6 114.54 L316.11 114.77 L316.62 116.34 L317.13 116.92 L317.64 116.28 L318.15 116.72 L318.65 115.75 L319.16 116.75 L319.67 118.03 L320.18 118.03 L320.69 118.3 L321.2 118.74 L321.77 117.25 L322.35 116.92 L322.93 116.96 L323.5 117.64 L324.07 117.91 L324.65 118.38 L325.23 117.89 L325.8 117.69 L326.11 117.46 L326.42 116.38 L326.73 116.1 L327.03 114.61 L327.34 115.63 L327.65 114.07 L327.96 114.97 L328.27 113.96 L328.57 112.81 L328.88 111.99 L329.19 111.77 L329.5 112.07 L329.71 111.69 L329.91 110.0 L330.12 109.41 L330.32 109.8 L330.53 109.41 L330.73 108.51 L330.94 107.67 L331.14 107.91 L331.35 106.22 L331.56 106.29 L331.76 106.1 L331.97 106.58 L332.17 105.44 L332.38 105.41 L332.58 104.08 L332.79 103.09 L332.99 102.61 L333.2 103.52 L333.56 102.55 L333.92 101.29 L334.28 100.26 L334.64 100.76 L335.0 100.65 L335.36 99.68 L335.72 98.89 L336.08 99.25 L336.44 99.31 L336.8 97.45 L337.33 96.81 L337.86 97.16 L338.39 97.07 L338.91 97.34 L339.44 96.11 L339.97 97.05 L340.5 96.68 L340.84 96.72 L341.19 96.64 L341.53 98.68 L341.87 97.88 L342.21 99.41 L342.56 98.75 L342.9 99.24 L343.05 100.89 L343.19 100.53 L343.34 102.41 L343.48 102.07 L343.63 102.02 L343.78 102.66 L343.92 103.62 L344.07 104.68 L344.22 105.82 L344.36 104.79 L344.51 105.85 L344.65 106.06 L344.8 108.15 L344.9 107.05 L345.0 107.44 L345.1 108.02 L345.2 109.25 L345.3 110.83 L345.4 111.37 L345.5 111.63 L345.6 112.73 L345.7 113.16 L345.8 112.53 L345.9 112.8 L346.0 114.87 L346.1 115.06 L346.2 114.2 L346.3 116.03 L346.4 116.02 L346.5 116.58 L346.6 117.06 L346.75 117.31 L346.89 117.54 L347.04 118.67 L347.18 119.38 L347.33 121.16 L347.48 120.06 L347.62 122.31 L347.77 121.37 L347.92 122.25 L348.06 123.65 L348.21 124.16 L348.35 124.14 L348.5 124.27 L348.94 125.16 L349.39 125.46 L349.83 126.28 L350.27 126.14 L350.71 126.66 L351.16 127.11 L351.6 127.5 L352.16 127.52 L352.72 127.55 L353.28 127.57 L353.85 127.59 L354.41 127.62 L354.97 127.64 L355.53 127.66 L356.09 127.68 L356.65 127.71 L357.22 127.73 L357.78 127.75 L358.34 127.78 L358.9 127.8 L359.46 127.82 L360.02 127.85 L360.58 127.87 L361.15 127.89 L361.71 127.92 L362.27 127.94 L362.83 127.96 L363.39 127.98 L363.95 128.01 L364.52 128.03 L365.08 128.05 L365.64 128.08 L366.2 128.1" fill="none" stroke="#333" stroke-width="0.85"/>
<rect x="280.3" y="41.5" width="86.1" height="86.8" fill="none" stroke="#858585" stroke-width="0.9"/>
<line x1="327.6" y1="76.4" x2="366.4" y2="76.4" stroke="#666" stroke-width="0.8"/>
<line x1="327.6" y1="74.80000000000001" x2="327.6" y2="78.0" stroke="#666" stroke-width="0.8"/>
<text x="347.0" y="75.60000000000001" font-size="4.4" text-anchor="middle" fill="#444" stroke="#444" stroke-width="0.15">25</text>
<line x1="277.7" y1="59.6" x2="280.3" y2="59.6" stroke="#555" stroke-width="0.7"/>
<text x="276.7" y="61.1" font-size="4.3" text-anchor="end" fill="#444" stroke="#444" stroke-width="0.18">800</text>
<line x1="277.7" y1="76.3" x2="280.3" y2="76.3" stroke="#555" stroke-width="0.7"/>
<text x="276.7" y="77.8" font-size="4.3" text-anchor="end" fill="#444" stroke="#444" stroke-width="0.18">600</text>
<line x1="277.7" y1="94" x2="280.3" y2="94" stroke="#555" stroke-width="0.7"/>
<text x="276.7" y="95.5" font-size="4.3" text-anchor="end" fill="#444" stroke="#444" stroke-width="0.18">400</text>
<line x1="277.7" y1="110.8" x2="280.3" y2="110.8" stroke="#555" stroke-width="0.7"/>
<text x="276.7" y="112.3" font-size="4.3" text-anchor="end" fill="#444" stroke="#444" stroke-width="0.18">200</text>
<line x1="279.1" y1="42.9" x2="280.3" y2="42.9" stroke="#666" stroke-width="0.6"/>
<line x1="279.1" y1="47.1" x2="280.3" y2="47.1" stroke="#666" stroke-width="0.6"/>
<line x1="279.1" y1="51.2" x2="280.3" y2="51.2" stroke="#666" stroke-width="0.6"/>
<line x1="279.1" y1="55.4" x2="280.3" y2="55.4" stroke="#666" stroke-width="0.6"/>
<line x1="279.1" y1="59.6" x2="280.3" y2="59.6" stroke="#666" stroke-width="0.6"/>
<line x1="279.1" y1="63.8" x2="280.3" y2="63.8" stroke="#666" stroke-width="0.6"/>
<line x1="279.1" y1="67.9" x2="280.3" y2="67.9" stroke="#666" stroke-width="0.6"/>
<line x1="279.1" y1="72.1" x2="280.3" y2="72.1" stroke="#666" stroke-width="0.6"/>
<line x1="279.1" y1="76.3" x2="280.3" y2="76.3" stroke="#666" stroke-width="0.6"/>
<line x1="279.1" y1="80.5" x2="280.3" y2="80.5" stroke="#666" stroke-width="0.6"/>
<line x1="279.1" y1="84.6" x2="280.3" y2="84.6" stroke="#666" stroke-width="0.6"/>
<line x1="279.1" y1="88.8" x2="280.3" y2="88.8" stroke="#666" stroke-width="0.6"/>
<line x1="279.1" y1="93.0" x2="280.3" y2="93.0" stroke="#666" stroke-width="0.6"/>
<line x1="279.1" y1="97.2" x2="280.3" y2="97.2" stroke="#666" stroke-width="0.6"/>
<line x1="279.1" y1="101.3" x2="280.3" y2="101.3" stroke="#666" stroke-width="0.6"/>
<line x1="279.1" y1="105.5" x2="280.3" y2="105.5" stroke="#666" stroke-width="0.6"/>
<line x1="279.1" y1="109.7" x2="280.3" y2="109.7" stroke="#666" stroke-width="0.6"/>
<line x1="279.1" y1="113.9" x2="280.3" y2="113.9" stroke="#666" stroke-width="0.6"/>
<line x1="279.1" y1="118.0" x2="280.3" y2="118.0" stroke="#666" stroke-width="0.6"/>
<line x1="279.1" y1="122.2" x2="280.3" y2="122.2" stroke="#666" stroke-width="0.6"/>
<line x1="279.1" y1="126.4" x2="280.3" y2="126.4" stroke="#666" stroke-width="0.6"/>
<text x="259.3" y="87.9" font-size="4.3" text-anchor="middle" fill="#555" transform="rotate(-90 259.3 87.9)" stroke="#555" stroke-width="0.12">Histogram</text>
<path d="M394.6 128.3 L394.6 126.74 L395.13 125.97 L395.66 126.01 L396.19 126.11 L396.71 125.88 L397.24 124.99 L397.77 124.74 L398.3 124.52 L398.71 125.08 L399.12 123.77 L399.53 124.05 L399.94 123.9 L400.36 122.48 L400.77 121.88 L401.18 122.8 L401.59 121.68 L402.0 120.52 L402.2 120.9 L402.4 119.56 L402.6 118.94 L402.8 117.86 L403.0 118.83 L403.2 118.62 L403.4 117.52 L403.6 117.6 L403.8 115.23 L404.0 115.11 L404.2 115.06 L404.4 115.48 L404.6 114.94 L404.8 113.27 L404.9 112.46 L405.0 112.27 L405.1 111.85 L405.2 112.18 L405.3 110.14 L405.4 110.84 L405.5 110.17 L405.6 109.79 L405.7 109.15 L405.8 108.27 L405.9 107.17 L406.0 106.61 L406.1 106.15 L406.2 106.44 L406.3 104.49 L406.4 104.18 L406.5 104.75 L406.6 103.19 L406.7 102.29 L406.8 101.68 L406.9 102.17 L407.0 101.17 L407.1 101.94 L407.2 101.2 L407.3 100.86 L407.4 98.87 L407.5 97.97 L407.6 97.44 L407.69 97.68 L407.79 97.55 L407.88 96.47 L407.98 95.49 L408.08 95.3 L408.17 95.15 L408.27 94.7 L408.36 94.29 L408.46 93.93 L408.56 93.01 L408.65 91.37 L408.75 92.25 L408.84 90.6 L408.94 90.59 L409.04 89.65 L409.13 89.82 L409.23 88.19 L409.32 87.73 L409.42 87.17 L409.52 86.43 L409.61 87.34 L409.71 86.17 L409.8 85.11 L409.9 84.69 L410.23 85.36 L410.56 83.86 L410.89 82.78 L411.21 83.4 L411.54 82.56 L411.87 82.71 L412.2 80.4 L412.46 81.68 L412.71 82.9 L412.97 83.47 L413.23 84.14 L413.49 82.92 L413.74 83.96 L414.0 84.14 L414.19 84.83 L414.37 86.95 L414.56 86.73 L414.75 87.97 L414.93 87.41 L415.12 88.95 L415.31 88.67 L415.49 88.85 L415.68 90.44 L415.87 91.32 L416.05 90.2 L416.24 91.73 L416.43 92.33 L416.61 92.08 L416.8 92.94 L417.05 92.98 L417.29 93.59 L417.54 94.19 L417.79 95.37 L418.03 95.97 L418.28 95.57 L418.53 95.68 L418.77 96.8 L419.02 98.0 L419.27 97.5 L419.51 98.25 L419.76 98.53 L420.01 100.2 L420.25 100.2 L420.5 99.73 L421.07 99.8 L421.65 100.39 L422.23 100.7 L422.8 100.88 L423.38 99.78 L423.95 99.93 L424.53 100.99 L425.1 100.42 L425.68 100.17 L426.25 100.22 L426.82 101.51 L427.4 100.22 L427.98 100.73 L428.55 100.31 L429.12 100.43 L429.7 101.33 L430.21 101.8 L430.72 100.75 L431.23 100.63 L431.74 101.9 L432.26 101.06 L432.77 100.88 L433.28 102.88 L433.79 102.14 L434.3 103.14 L434.71 102.72 L435.12 104.09 L435.54 103.66 L435.95 103.48 L436.36 103.59 L436.78 105.08 L437.19 105.67 L437.6 106.62 L437.96 104.5 L438.31 105.09 L438.67 104.11 L439.02 103.9 L439.38 102.7 L439.73 102.5 L440.09 102.5 L440.44 102.83 L440.8 100.72 L440.99 100.95 L441.19 101.05 L441.38 100.84 L441.58 98.77 L441.77 98.1 L441.97 99.2 L442.16 98.73 L442.36 97.21 L442.55 95.82 L442.75 97.04 L442.94 95.43 L443.14 95.93 L443.33 94.83 L443.53 94.71 L443.72 92.85 L443.92 93.57 L444.11 91.91 L444.31 91.74 L444.5 92.09 L444.68 91.53 L444.85 89.71 L445.03 89.25 L445.2 89.09 L445.38 88.79 L445.56 88.0 L445.73 86.95 L445.91 86.67 L446.09 87.09 L446.26 86.91 L446.44 84.67 L446.61 85.18 L446.79 85.04 L446.97 83.08 L447.14 84.15 L447.32 82.18 L447.5 82.61 L447.67 81.99 L447.85 81.61 L448.02 80.44 L448.2 80.14 L448.33 79.92 L448.47 79.06 L448.6 78.97 L448.73 78.0 L448.87 77.44 L449.0 76.06 L449.13 76.7 L449.27 75.89 L449.4 74.84 L449.53 75.35 L449.67 74.83 L449.8 73.64 L449.93 72.53 L450.07 72.57 L450.2 71.29 L450.33 70.79 L450.47 70.84 L450.6 69.62 L450.73 69.77 L450.87 69.36 L451.0 67.87 L451.13 68.51 L451.27 66.86 L451.4 67.61 L451.53 67.15 L451.67 66.07 L451.8 64.61 L451.92 64.97 L452.03 64.18 L452.15 64.79 L452.27 62.62 L452.38 63.53 L452.5 63.27 L452.62 62.2 L452.73 61.83 L452.85 60.05 L452.97 61.09 L453.08 59.57 L453.2 59.96 L453.32 59.34 L453.43 57.31 L453.55 58.01 L453.67 57.76 L453.78 55.49 L453.9 55.53 L454.02 55.8 L454.13 54.07 L454.25 55.01 L454.37 53.22 L454.48 53.77 L454.6 51.89 L454.85 52.1 L455.11 52.44 L455.36 50.52 L455.62 50.13 L455.87 50.11 L456.13 49.24 L456.38 48.17 L456.64 47.96 L456.89 47.42 L457.15 48.47 L457.4 47.46 L457.54 48.46 L457.68 47.58 L457.82 49.38 L457.95 48.61 L458.09 50.01 L458.23 50.79 L458.37 50.8 L458.51 52.4 L458.65 52.33 L458.78 52.95 L458.92 54.13 L459.06 53.14 L459.2 55.49 L459.25 55.32 L459.31 55.4 L459.36 56.77 L459.42 56.26 L459.47 58.27 L459.53 58.0 L459.58 58.12 L459.64 59.49 L459.69 59.4 L459.75 59.43 L459.8 61.12 L459.85 60.29 L459.91 62.39 L459.96 61.81 L460.02 63.14 L460.07 64.39 L460.13 64.15 L460.18 64.86 L460.24 64.72 L460.29 64.66 L460.35 65.28 L460.4 66.07 L460.45 67.56 L460.51 67.75 L460.56 68.46 L460.62 69.79 L460.67 68.82 L460.73 69.57 L460.78 70.98 L460.84 70.27 L460.89 70.79 L460.95 72.05 L461.0 72.11 L461.04 73.17 L461.09 73.46 L461.13 74.74 L461.18 75.31 L461.22 75.1 L461.27 76.5 L461.31 76.76 L461.35 76.63 L461.4 78.8 L461.44 77.97 L461.49 78.34 L461.53 78.79 L461.57 80.43 L461.62 81.46 L461.66 81.84 L461.71 81.63 L461.75 81.92 L461.8 81.97 L461.84 83.79 L461.88 84.19 L461.93 84.32 L461.97 85.47 L462.02 85.62 L462.06 87.17 L462.1 87.32 L462.15 86.91 L462.19 88.78 L462.24 87.62 L462.28 89.15 L462.33 89.46 L462.37 89.68 L462.41 89.88 L462.46 91.88 L462.5 90.9 L462.55 92.54 L462.59 93.87 L462.63 92.84 L462.68 93.51 L462.72 94.88 L462.77 95.24 L462.81 96.07 L462.86 96.97 L462.9 96.25 L462.96 97.07 L463.03 97.61 L463.09 97.66 L463.15 99.89 L463.22 100.23 L463.28 100.65 L463.34 99.79 L463.41 102.02 L463.47 102.37 L463.53 102.36 L463.6 103.47 L463.66 103.44 L463.72 103.55 L463.79 103.86 L463.85 104.66 L463.91 104.83 L463.98 105.98 L464.04 107.36 L464.1 107.8 L464.17 108.66 L464.23 108.94 L464.29 108.61 L464.36 109.73 L464.42 110.05 L464.48 111.31 L464.55 111.33 L464.61 111.37 L464.67 112.68 L464.74 113.88 L464.8 112.93 L464.98 114.81 L465.16 113.64 L465.34 114.68 L465.52 115.19 L465.7 116.75 L465.88 117.71 L466.06 117.87 L466.24 117.58 L466.42 119.24 L466.6 118.69 L466.78 119.07 L466.96 120.96 L467.14 120.95 L467.32 121.63 L467.5 122.13 L467.97 123.1 L468.44 122.42 L468.91 123.44 L469.38 123.5 L469.85 124.07 L470.32 123.75 L470.79 124.49 L471.26 124.61 L471.73 124.64 L472.2 124.9 L472.75 125.41 L473.31 124.96 L473.86 125.85 L474.41 125.22 L474.97 125.21 L475.52 125.38 L476.07 126.16 L476.63 125.77 L477.18 125.7 L477.73 125.72 L478.29 125.83 L478.84 126.37 L479.39 126.41 L479.95 126.54 L480.5 126.5 L480.5 128.3 Z" fill="#b4b4b4" stroke="none"/>
<path d="M394.6 126.74 L395.13 125.97 L395.66 126.01 L396.19 126.11 L396.71 125.88 L397.24 124.99 L397.77 124.74 L398.3 124.52 L398.71 125.08 L399.12 123.77 L399.53 124.05 L399.94 123.9 L400.36 122.48 L400.77 121.88 L401.18 122.8 L401.59 121.68 L402.0 120.52 L402.2 120.9 L402.4 119.56 L402.6 118.94 L402.8 117.86 L403.0 118.83 L403.2 118.62 L403.4 117.52 L403.6 117.6 L403.8 115.23 L404.0 115.11 L404.2 115.06 L404.4 115.48 L404.6 114.94 L404.8 113.27 L404.9 112.46 L405.0 112.27 L405.1 111.85 L405.2 112.18 L405.3 110.14 L405.4 110.84 L405.5 110.17 L405.6 109.79 L405.7 109.15 L405.8 108.27 L405.9 107.17 L406.0 106.61 L406.1 106.15 L406.2 106.44 L406.3 104.49 L406.4 104.18 L406.5 104.75 L406.6 103.19 L406.7 102.29 L406.8 101.68 L406.9 102.17 L407.0 101.17 L407.1 101.94 L407.2 101.2 L407.3 100.86 L407.4 98.87 L407.5 97.97 L407.6 97.44 L407.69 97.68 L407.79 97.55 L407.88 96.47 L407.98 95.49 L408.08 95.3 L408.17 95.15 L408.27 94.7 L408.36 94.29 L408.46 93.93 L408.56 93.01 L408.65 91.37 L408.75 92.25 L408.84 90.6 L408.94 90.59 L409.04 89.65 L409.13 89.82 L409.23 88.19 L409.32 87.73 L409.42 87.17 L409.52 86.43 L409.61 87.34 L409.71 86.17 L409.8 85.11 L409.9 84.69 L410.23 85.36 L410.56 83.86 L410.89 82.78 L411.21 83.4 L411.54 82.56 L411.87 82.71 L412.2 80.4 L412.46 81.68 L412.71 82.9 L412.97 83.47 L413.23 84.14 L413.49 82.92 L413.74 83.96 L414.0 84.14 L414.19 84.83 L414.37 86.95 L414.56 86.73 L414.75 87.97 L414.93 87.41 L415.12 88.95 L415.31 88.67 L415.49 88.85 L415.68 90.44 L415.87 91.32 L416.05 90.2 L416.24 91.73 L416.43 92.33 L416.61 92.08 L416.8 92.94 L417.05 92.98 L417.29 93.59 L417.54 94.19 L417.79 95.37 L418.03 95.97 L418.28 95.57 L418.53 95.68 L418.77 96.8 L419.02 98.0 L419.27 97.5 L419.51 98.25 L419.76 98.53 L420.01 100.2 L420.25 100.2 L420.5 99.73 L421.07 99.8 L421.65 100.39 L422.23 100.7 L422.8 100.88 L423.38 99.78 L423.95 99.93 L424.53 100.99 L425.1 100.42 L425.68 100.17 L426.25 100.22 L426.82 101.51 L427.4 100.22 L427.98 100.73 L428.55 100.31 L429.12 100.43 L429.7 101.33 L430.21 101.8 L430.72 100.75 L431.23 100.63 L431.74 101.9 L432.26 101.06 L432.77 100.88 L433.28 102.88 L433.79 102.14 L434.3 103.14 L434.71 102.72 L435.12 104.09 L435.54 103.66 L435.95 103.48 L436.36 103.59 L436.78 105.08 L437.19 105.67 L437.6 106.62 L437.96 104.5 L438.31 105.09 L438.67 104.11 L439.02 103.9 L439.38 102.7 L439.73 102.5 L440.09 102.5 L440.44 102.83 L440.8 100.72 L440.99 100.95 L441.19 101.05 L441.38 100.84 L441.58 98.77 L441.77 98.1 L441.97 99.2 L442.16 98.73 L442.36 97.21 L442.55 95.82 L442.75 97.04 L442.94 95.43 L443.14 95.93 L443.33 94.83 L443.53 94.71 L443.72 92.85 L443.92 93.57 L444.11 91.91 L444.31 91.74 L444.5 92.09 L444.68 91.53 L444.85 89.71 L445.03 89.25 L445.2 89.09 L445.38 88.79 L445.56 88.0 L445.73 86.95 L445.91 86.67 L446.09 87.09 L446.26 86.91 L446.44 84.67 L446.61 85.18 L446.79 85.04 L446.97 83.08 L447.14 84.15 L447.32 82.18 L447.5 82.61 L447.67 81.99 L447.85 81.61 L448.02 80.44 L448.2 80.14 L448.33 79.92 L448.47 79.06 L448.6 78.97 L448.73 78.0 L448.87 77.44 L449.0 76.06 L449.13 76.7 L449.27 75.89 L449.4 74.84 L449.53 75.35 L449.67 74.83 L449.8 73.64 L449.93 72.53 L450.07 72.57 L450.2 71.29 L450.33 70.79 L450.47 70.84 L450.6 69.62 L450.73 69.77 L450.87 69.36 L451.0 67.87 L451.13 68.51 L451.27 66.86 L451.4 67.61 L451.53 67.15 L451.67 66.07 L451.8 64.61 L451.92 64.97 L452.03 64.18 L452.15 64.79 L452.27 62.62 L452.38 63.53 L452.5 63.27 L452.62 62.2 L452.73 61.83 L452.85 60.05 L452.97 61.09 L453.08 59.57 L453.2 59.96 L453.32 59.34 L453.43 57.31 L453.55 58.01 L453.67 57.76 L453.78 55.49 L453.9 55.53 L454.02 55.8 L454.13 54.07 L454.25 55.01 L454.37 53.22 L454.48 53.77 L454.6 51.89 L454.85 52.1 L455.11 52.44 L455.36 50.52 L455.62 50.13 L455.87 50.11 L456.13 49.24 L456.38 48.17 L456.64 47.96 L456.89 47.42 L457.15 48.47 L457.4 47.46 L457.54 48.46 L457.68 47.58 L457.82 49.38 L457.95 48.61 L458.09 50.01 L458.23 50.79 L458.37 50.8 L458.51 52.4 L458.65 52.33 L458.78 52.95 L458.92 54.13 L459.06 53.14 L459.2 55.49 L459.25 55.32 L459.31 55.4 L459.36 56.77 L459.42 56.26 L459.47 58.27 L459.53 58.0 L459.58 58.12 L459.64 59.49 L459.69 59.4 L459.75 59.43 L459.8 61.12 L459.85 60.29 L459.91 62.39 L459.96 61.81 L460.02 63.14 L460.07 64.39 L460.13 64.15 L460.18 64.86 L460.24 64.72 L460.29 64.66 L460.35 65.28 L460.4 66.07 L460.45 67.56 L460.51 67.75 L460.56 68.46 L460.62 69.79 L460.67 68.82 L460.73 69.57 L460.78 70.98 L460.84 70.27 L460.89 70.79 L460.95 72.05 L461.0 72.11 L461.04 73.17 L461.09 73.46 L461.13 74.74 L461.18 75.31 L461.22 75.1 L461.27 76.5 L461.31 76.76 L461.35 76.63 L461.4 78.8 L461.44 77.97 L461.49 78.34 L461.53 78.79 L461.57 80.43 L461.62 81.46 L461.66 81.84 L461.71 81.63 L461.75 81.92 L461.8 81.97 L461.84 83.79 L461.88 84.19 L461.93 84.32 L461.97 85.47 L462.02 85.62 L462.06 87.17 L462.1 87.32 L462.15 86.91 L462.19 88.78 L462.24 87.62 L462.28 89.15 L462.33 89.46 L462.37 89.68 L462.41 89.88 L462.46 91.88 L462.5 90.9 L462.55 92.54 L462.59 93.87 L462.63 92.84 L462.68 93.51 L462.72 94.88 L462.77 95.24 L462.81 96.07 L462.86 96.97 L462.9 96.25 L462.96 97.07 L463.03 97.61 L463.09 97.66 L463.15 99.89 L463.22 100.23 L463.28 100.65 L463.34 99.79 L463.41 102.02 L463.47 102.37 L463.53 102.36 L463.6 103.47 L463.66 103.44 L463.72 103.55 L463.79 103.86 L463.85 104.66 L463.91 104.83 L463.98 105.98 L464.04 107.36 L464.1 107.8 L464.17 108.66 L464.23 108.94 L464.29 108.61 L464.36 109.73 L464.42 110.05 L464.48 111.31 L464.55 111.33 L464.61 111.37 L464.67 112.68 L464.74 113.88 L464.8 112.93 L464.98 114.81 L465.16 113.64 L465.34 114.68 L465.52 115.19 L465.7 116.75 L465.88 117.71 L466.06 117.87 L466.24 117.58 L466.42 119.24 L466.6 118.69 L466.78 119.07 L466.96 120.96 L467.14 120.95 L467.32 121.63 L467.5 122.13 L467.97 123.1 L468.44 122.42 L468.91 123.44 L469.38 123.5 L469.85 124.07 L470.32 123.75 L470.79 124.49 L471.26 124.61 L471.73 124.64 L472.2 124.9 L472.75 125.41 L473.31 124.96 L473.86 125.85 L474.41 125.22 L474.97 125.21 L475.52 125.38 L476.07 126.16 L476.63 125.77 L477.18 125.7 L477.73 125.72 L478.29 125.83 L478.84 126.37 L479.39 126.41 L479.95 126.54 L480.5 126.5" fill="none" stroke="#333" stroke-width="0.85"/>
<rect x="394.6" y="41.1" width="86.2" height="87.2" fill="none" stroke="#858585" stroke-width="0.9"/>
<line x1="442.2" y1="61.5" x2="480.8" y2="61.5" stroke="#666" stroke-width="0.8"/>
<line x1="442.2" y1="59.9" x2="442.2" y2="63.1" stroke="#666" stroke-width="0.8"/>
<text x="461.5" y="60.7" font-size="4.4" text-anchor="middle" fill="#444" stroke="#444" stroke-width="0.15">12</text>
<line x1="392.0" y1="62.3" x2="394.6" y2="62.3" stroke="#555" stroke-width="0.7"/>
<text x="391.0" y="63.8" font-size="4.3" text-anchor="end" fill="#444" stroke="#444" stroke-width="0.18">600</text>
<line x1="392.0" y1="83.8" x2="394.6" y2="83.8" stroke="#555" stroke-width="0.7"/>
<text x="391.0" y="85.3" font-size="4.3" text-anchor="end" fill="#444" stroke="#444" stroke-width="0.18">400</text>
<line x1="392.0" y1="105.4" x2="394.6" y2="105.4" stroke="#555" stroke-width="0.7"/>
<text x="391.0" y="106.9" font-size="4.3" text-anchor="end" fill="#444" stroke="#444" stroke-width="0.18">200</text>
<line x1="393.40000000000003" y1="46.2" x2="394.6" y2="46.2" stroke="#666" stroke-width="0.6"/>
<line x1="393.40000000000003" y1="51.5" x2="394.6" y2="51.5" stroke="#666" stroke-width="0.6"/>
<line x1="393.40000000000003" y1="56.9" x2="394.6" y2="56.9" stroke="#666" stroke-width="0.6"/>
<line x1="393.40000000000003" y1="62.3" x2="394.6" y2="62.3" stroke="#666" stroke-width="0.6"/>
<line x1="393.40000000000003" y1="67.7" x2="394.6" y2="67.7" stroke="#666" stroke-width="0.6"/>
<line x1="393.40000000000003" y1="73.0" x2="394.6" y2="73.0" stroke="#666" stroke-width="0.6"/>
<line x1="393.40000000000003" y1="78.4" x2="394.6" y2="78.4" stroke="#666" stroke-width="0.6"/>
<line x1="393.40000000000003" y1="83.8" x2="394.6" y2="83.8" stroke="#666" stroke-width="0.6"/>
<line x1="393.40000000000003" y1="89.2" x2="394.6" y2="89.2" stroke="#666" stroke-width="0.6"/>
<line x1="393.40000000000003" y1="94.5" x2="394.6" y2="94.5" stroke="#666" stroke-width="0.6"/>
<line x1="393.40000000000003" y1="99.9" x2="394.6" y2="99.9" stroke="#666" stroke-width="0.6"/>
<line x1="393.40000000000003" y1="105.3" x2="394.6" y2="105.3" stroke="#666" stroke-width="0.6"/>
<line x1="393.40000000000003" y1="110.7" x2="394.6" y2="110.7" stroke="#666" stroke-width="0.6"/>
<line x1="393.40000000000003" y1="116.0" x2="394.6" y2="116.0" stroke="#666" stroke-width="0.6"/>
<line x1="393.40000000000003" y1="121.4" x2="394.6" y2="121.4" stroke="#666" stroke-width="0.6"/>
<line x1="393.40000000000003" y1="126.8" x2="394.6" y2="126.8" stroke="#666" stroke-width="0.6"/>
<text x="373.6" y="87.7" font-size="4.3" text-anchor="middle" fill="#555" transform="rotate(-90 373.6 87.7)" stroke="#555" stroke-width="0.12">Histogram</text>
<path d="M165.5 214.4 L165.5 210.26 L165.97 209.79 L166.45 210.96 L166.93 211.18 L167.4 212.08 L167.65 211.62 L167.91 211.25 L168.16 209.68 L168.42 210.33 L168.67 209.97 L168.93 209.58 L169.18 207.45 L169.44 207.14 L169.69 206.44 L169.95 205.78 L170.2 206.9 L170.39 206.3 L170.59 205.41 L170.78 205.26 L170.97 204.35 L171.16 203.13 L171.36 202.23 L171.55 201.7 L171.74 202.49 L171.94 200.85 L172.13 200.55 L172.32 200.23 L172.51 198.9 L172.71 198.84 L172.9 198.37 L172.98 198.67 L173.07 197.42 L173.15 196.77 L173.24 197.5 L173.32 196.02 L173.41 196.16 L173.49 195.13 L173.58 193.4 L173.66 193.61 L173.75 193.1 L173.83 193.21 L173.92 191.8 L174.0 191.96 L174.09 191.07 L174.17 189.87 L174.26 190.6 L174.34 188.5 L174.43 189.4 L174.51 187.55 L174.6 186.65 L174.68 186.49 L174.77 187.06 L174.85 186.93 L174.94 184.43 L175.02 184.84 L175.11 184.29 L175.19 184.34 L175.28 182.56 L175.36 182.62 L175.45 181.77 L175.53 182.18 L175.62 180.48 L175.7 181.29 L175.76 179.42 L175.82 178.73 L175.88 179.15 L175.94 178.19 L176.0 176.86 L176.06 177.37 L176.12 175.7 L176.18 176.57 L176.24 175.83 L176.3 175.46 L176.36 174.59 L176.41 173.5 L176.47 173.04 L176.53 172.47 L176.59 172.91 L176.65 170.76 L176.71 171.81 L176.77 169.53 L176.83 169.34 L176.89 168.91 L176.95 169.63 L177.01 168.28 L177.07 167.48 L177.13 167.94 L177.19 166.09 L177.25 165.99 L177.31 165.58 L177.37 165.48 L177.43 164.93 L177.49 164.16 L177.55 163.01 L177.61 162.42 L177.67 161.53 L177.73 162.35 L177.79 161.44 L177.84 161.05 L177.9 159.35 L177.96 159.34 L178.02 159.46 L178.08 158.52 L178.14 157.06 L178.2 157.18 L178.26 157.47 L178.32 155.63 L178.38 154.99 L178.44 154.65 L178.5 154.91 L178.57 154.63 L178.65 152.7 L178.72 152.15 L178.79 151.78 L178.87 151.39 L178.94 151.22 L179.01 149.95 L179.09 149.73 L179.16 148.9 L179.23 149.92 L179.31 148.87 L179.38 147.06 L179.45 148.23 L179.53 145.96 L179.6 145.97 L179.67 146.61 L179.75 145.68 L179.82 145.01 L179.89 143.86 L179.97 142.83 L180.04 143.16 L180.11 141.54 L180.19 141.19 L180.26 141.0 L180.33 139.73 L180.41 139.91 L180.48 140.14 L180.55 139.39 L180.63 138.45 L180.7 138.16 L180.91 137.26 L181.13 136.04 L181.34 136.39 L181.56 135.42 L181.77 135.52 L181.99 135.29 L182.2 133.76 L182.36 134.59 L182.51 135.49 L182.67 135.38 L182.82 135.53 L182.98 137.07 L183.13 137.93 L183.29 138.26 L183.44 138.66 L183.6 139.5 L183.65 139.71 L183.71 140.19 L183.76 140.37 L183.82 140.64 L183.87 141.83 L183.93 141.32 L183.98 142.52 L184.03 143.8 L184.09 144.21 L184.14 144.6 L184.2 144.4 L184.25 145.3 L184.31 145.92 L184.36 146.8 L184.41 146.93 L184.47 148.02 L184.52 149.08 L184.58 148.14 L184.63 149.64 L184.69 150.44 L184.74 150.22 L184.79 150.97 L184.85 152.5 L184.9 151.18 L184.96 152.74 L185.01 152.53 L185.07 154.33 L185.12 155.2 L185.17 154.91 L185.23 154.63 L185.28 156.13 L185.34 156.62 L185.39 157.53 L185.45 157.67 L185.5 158.48 L185.54 159.41 L185.58 159.35 L185.61 159.67 L185.65 161.3 L185.69 160.38 L185.73 161.88 L185.77 161.84 L185.81 163.13 L185.84 162.4 L185.88 164.68 L185.92 163.97 L185.96 163.93 L186.0 164.91 L186.04 165.71 L186.07 165.49 L186.11 166.85 L186.15 167.41 L186.19 168.52 L186.23 168.37 L186.27 168.75 L186.3 169.22 L186.34 170.81 L186.38 171.75 L186.42 171.48 L186.46 171.41 L186.5 173.13 L186.53 172.86 L186.57 173.05 L186.61 173.44 L186.65 175.29 L186.69 175.9 L186.73 176.1 L186.76 176.32 L186.8 177.06 L186.84 176.94 L186.88 178.97 L186.92 178.3 L186.96 179.42 L186.99 180.33 L187.03 180.87 L187.07 180.73 L187.11 180.93 L187.15 181.99 L187.19 181.7 L187.22 183.67 L187.26 183.26 L187.3 184.8 L187.36 184.19 L187.42 184.97 L187.47 185.28 L187.53 186.18 L187.59 186.26 L187.65 186.45 L187.7 188.45 L187.76 188.12 L187.82 188.61 L187.88 189.28 L187.93 190.19 L187.99 190.65 L188.05 191.62 L188.11 192.22 L188.16 192.19 L188.22 193.88 L188.28 194.29 L188.34 193.25 L188.39 195.35 L188.45 196.06 L188.51 196.38 L188.57 195.65 L188.62 197.59 L188.68 197.75 L188.74 197.07 L188.8 197.62 L188.85 200.06 L188.91 200.02 L188.97 199.77 L189.03 200.03 L189.08 200.67 L189.14 201.41 L189.2 203.05 L189.38 202.73 L189.57 202.89 L189.75 204.93 L189.93 205.25 L190.12 204.54 L190.3 206.53 L190.48 206.51 L190.67 207.4 L190.85 207.71 L191.03 208.7 L191.22 209.03 L191.4 209.61 L191.93 208.74 L192.46 209.83 L192.99 209.82 L193.51 210.38 L194.04 210.2 L194.57 211.03 L195.1 210.87 L195.67 210.6 L196.24 210.65 L196.81 210.63 L197.38 211.1 L197.95 210.71 L198.52 211.23 L199.08 210.98 L199.65 211.41 L200.22 211.49 L200.79 211.61 L201.36 211.98 L201.93 211.28 L202.5 212.1 L203.06 211.8 L203.62 211.9 L204.18 212.01 L204.75 212.18 L205.31 211.81 L205.87 211.87 L206.43 212.34 L206.99 211.64 L207.55 212.12 L208.12 212.14 L208.68 211.69 L209.24 212.16 L209.8 212.24 L210.35 212.49 L210.89 212.11 L211.44 212.63 L211.99 212.37 L212.54 212.41 L213.08 212.74 L213.63 212.27 L214.18 212.75 L214.72 212.75 L215.27 212.66 L215.82 213.0 L216.36 212.81 L216.91 212.94 L217.46 213.01 L218.01 213.07 L218.55 213.14 L219.1 213.2 L219.67 213.22 L220.23 213.23 L220.8 213.25 L221.36 213.26 L221.93 213.28 L222.49 213.29 L223.06 213.31 L223.62 213.32 L224.19 213.34 L224.75 213.35 L225.32 213.37 L225.88 213.38 L226.45 213.4 L227.02 213.42 L227.58 213.43 L228.15 213.45 L228.71 213.46 L229.28 213.48 L229.84 213.49 L230.41 213.51 L230.97 213.52 L231.54 213.54 L232.1 213.55 L232.67 213.57 L233.23 213.58 L233.8 213.6 L234.35 213.61 L234.9 213.62 L235.45 213.64 L236.0 213.65 L236.55 213.66 L237.1 213.67 L237.65 213.69 L238.2 213.7 L238.75 213.71 L239.3 213.72 L239.85 213.74 L240.4 213.75 L240.95 213.76 L241.5 213.78 L242.05 213.79 L242.6 213.8 L243.15 213.81 L243.7 213.82 L244.25 213.84 L244.8 213.85 L245.35 213.86 L245.9 213.88 L246.45 213.89 L247.0 213.9 L247.55 213.91 L248.1 213.93 L248.65 213.94 L249.2 213.95 L249.75 213.96 L250.3 213.97 L250.85 213.99 L251.4 214 L251.4 214.4 Z" fill="#b4b4b4" stroke="none"/>
<path d="M165.5 210.26 L165.97 209.79 L166.45 210.96 L166.93 211.18 L167.4 212.08 L167.65 211.62 L167.91 211.25 L168.16 209.68 L168.42 210.33 L168.67 209.97 L168.93 209.58 L169.18 207.45 L169.44 207.14 L169.69 206.44 L169.95 205.78 L170.2 206.9 L170.39 206.3 L170.59 205.41 L170.78 205.26 L170.97 204.35 L171.16 203.13 L171.36 202.23 L171.55 201.7 L171.74 202.49 L171.94 200.85 L172.13 200.55 L172.32 200.23 L172.51 198.9 L172.71 198.84 L172.9 198.37 L172.98 198.67 L173.07 197.42 L173.15 196.77 L173.24 197.5 L173.32 196.02 L173.41 196.16 L173.49 195.13 L173.58 193.4 L173.66 193.61 L173.75 193.1 L173.83 193.21 L173.92 191.8 L174.0 191.96 L174.09 191.07 L174.17 189.87 L174.26 190.6 L174.34 188.5 L174.43 189.4 L174.51 187.55 L174.6 186.65 L174.68 186.49 L174.77 187.06 L174.85 186.93 L174.94 184.43 L175.02 184.84 L175.11 184.29 L175.19 184.34 L175.28 182.56 L175.36 182.62 L175.45 181.77 L175.53 182.18 L175.62 180.48 L175.7 181.29 L175.76 179.42 L175.82 178.73 L175.88 179.15 L175.94 178.19 L176.0 176.86 L176.06 177.37 L176.12 175.7 L176.18 176.57 L176.24 175.83 L176.3 175.46 L176.36 174.59 L176.41 173.5 L176.47 173.04 L176.53 172.47 L176.59 172.91 L176.65 170.76 L176.71 171.81 L176.77 169.53 L176.83 169.34 L176.89 168.91 L176.95 169.63 L177.01 168.28 L177.07 167.48 L177.13 167.94 L177.19 166.09 L177.25 165.99 L177.31 165.58 L177.37 165.48 L177.43 164.93 L177.49 164.16 L177.55 163.01 L177.61 162.42 L177.67 161.53 L177.73 162.35 L177.79 161.44 L177.84 161.05 L177.9 159.35 L177.96 159.34 L178.02 159.46 L178.08 158.52 L178.14 157.06 L178.2 157.18 L178.26 157.47 L178.32 155.63 L178.38 154.99 L178.44 154.65 L178.5 154.91 L178.57 154.63 L178.65 152.7 L178.72 152.15 L178.79 151.78 L178.87 151.39 L178.94 151.22 L179.01 149.95 L179.09 149.73 L179.16 148.9 L179.23 149.92 L179.31 148.87 L179.38 147.06 L179.45 148.23 L179.53 145.96 L179.6 145.97 L179.67 146.61 L179.75 145.68 L179.82 145.01 L179.89 143.86 L179.97 142.83 L180.04 143.16 L180.11 141.54 L180.19 141.19 L180.26 141.0 L180.33 139.73 L180.41 139.91 L180.48 140.14 L180.55 139.39 L180.63 138.45 L180.7 138.16 L180.91 137.26 L181.13 136.04 L181.34 136.39 L181.56 135.42 L181.77 135.52 L181.99 135.29 L182.2 133.76 L182.36 134.59 L182.51 135.49 L182.67 135.38 L182.82 135.53 L182.98 137.07 L183.13 137.93 L183.29 138.26 L183.44 138.66 L183.6 139.5 L183.65 139.71 L183.71 140.19 L183.76 140.37 L183.82 140.64 L183.87 141.83 L183.93 141.32 L183.98 142.52 L184.03 143.8 L184.09 144.21 L184.14 144.6 L184.2 144.4 L184.25 145.3 L184.31 145.92 L184.36 146.8 L184.41 146.93 L184.47 148.02 L184.52 149.08 L184.58 148.14 L184.63 149.64 L184.69 150.44 L184.74 150.22 L184.79 150.97 L184.85 152.5 L184.9 151.18 L184.96 152.74 L185.01 152.53 L185.07 154.33 L185.12 155.2 L185.17 154.91 L185.23 154.63 L185.28 156.13 L185.34 156.62 L185.39 157.53 L185.45 157.67 L185.5 158.48 L185.54 159.41 L185.58 159.35 L185.61 159.67 L185.65 161.3 L185.69 160.38 L185.73 161.88 L185.77 161.84 L185.81 163.13 L185.84 162.4 L185.88 164.68 L185.92 163.97 L185.96 163.93 L186.0 164.91 L186.04 165.71 L186.07 165.49 L186.11 166.85 L186.15 167.41 L186.19 168.52 L186.23 168.37 L186.27 168.75 L186.3 169.22 L186.34 170.81 L186.38 171.75 L186.42 171.48 L186.46 171.41 L186.5 173.13 L186.53 172.86 L186.57 173.05 L186.61 173.44 L186.65 175.29 L186.69 175.9 L186.73 176.1 L186.76 176.32 L186.8 177.06 L186.84 176.94 L186.88 178.97 L186.92 178.3 L186.96 179.42 L186.99 180.33 L187.03 180.87 L187.07 180.73 L187.11 180.93 L187.15 181.99 L187.19 181.7 L187.22 183.67 L187.26 183.26 L187.3 184.8 L187.36 184.19 L187.42 184.97 L187.47 185.28 L187.53 186.18 L187.59 186.26 L187.65 186.45 L187.7 188.45 L187.76 188.12 L187.82 188.61 L187.88 189.28 L187.93 190.19 L187.99 190.65 L188.05 191.62 L188.11 192.22 L188.16 192.19 L188.22 193.88 L188.28 194.29 L188.34 193.25 L188.39 195.35 L188.45 196.06 L188.51 196.38 L188.57 195.65 L188.62 197.59 L188.68 197.75 L188.74 197.07 L188.8 197.62 L188.85 200.06 L188.91 200.02 L188.97 199.77 L189.03 200.03 L189.08 200.67 L189.14 201.41 L189.2 203.05 L189.38 202.73 L189.57 202.89 L189.75 204.93 L189.93 205.25 L190.12 204.54 L190.3 206.53 L190.48 206.51 L190.67 207.4 L190.85 207.71 L191.03 208.7 L191.22 209.03 L191.4 209.61 L191.93 208.74 L192.46 209.83 L192.99 209.82 L193.51 210.38 L194.04 210.2 L194.57 211.03 L195.1 210.87 L195.67 210.6 L196.24 210.65 L196.81 210.63 L197.38 211.1 L197.95 210.71 L198.52 211.23 L199.08 210.98 L199.65 211.41 L200.22 211.49 L200.79 211.61 L201.36 211.98 L201.93 211.28 L202.5 212.1 L203.06 211.8 L203.62 211.9 L204.18 212.01 L204.75 212.18 L205.31 211.81 L205.87 211.87 L206.43 212.34 L206.99 211.64 L207.55 212.12 L208.12 212.14 L208.68 211.69 L209.24 212.16 L209.8 212.24 L210.35 212.49 L210.89 212.11 L211.44 212.63 L211.99 212.37 L212.54 212.41 L213.08 212.74 L213.63 212.27 L214.18 212.75 L214.72 212.75 L215.27 212.66 L215.82 213.0 L216.36 212.81 L216.91 212.94 L217.46 213.01 L218.01 213.07 L218.55 213.14 L219.1 213.2 L219.67 213.22 L220.23 213.23 L220.8 213.25 L221.36 213.26 L221.93 213.28 L222.49 213.29 L223.06 213.31 L223.62 213.32 L224.19 213.34 L224.75 213.35 L225.32 213.37 L225.88 213.38 L226.45 213.4 L227.02 213.42 L227.58 213.43 L228.15 213.45 L228.71 213.46 L229.28 213.48 L229.84 213.49 L230.41 213.51 L230.97 213.52 L231.54 213.54 L232.1 213.55 L232.67 213.57 L233.23 213.58 L233.8 213.6 L234.35 213.61 L234.9 213.62 L235.45 213.64 L236.0 213.65 L236.55 213.66 L237.1 213.67 L237.65 213.69 L238.2 213.7 L238.75 213.71 L239.3 213.72 L239.85 213.74 L240.4 213.75 L240.95 213.76 L241.5 213.78 L242.05 213.79 L242.6 213.8 L243.15 213.81 L243.7 213.82 L244.25 213.84 L244.8 213.85 L245.35 213.86 L245.9 213.88 L246.45 213.89 L247.0 213.9 L247.55 213.91 L248.1 213.93 L248.65 213.94 L249.2 213.95 L249.75 213.96 L250.3 213.97 L250.85 213.99 L251.4 214" fill="none" stroke="#333" stroke-width="0.85"/>
<rect x="165.5" y="128.3" width="86.4" height="86.1" fill="none" stroke="#858585" stroke-width="0.9"/>
<line x1="194.2" y1="165.1" x2="251.9" y2="165.1" stroke="#666" stroke-width="0.8"/>
<line x1="194.2" y1="163.5" x2="194.2" y2="166.7" stroke="#666" stroke-width="0.8"/>
<text x="223.05" y="164.29999999999998" font-size="4.4" text-anchor="middle" fill="#444" stroke="#444" stroke-width="0.15">6</text>
<line x1="162.9" y1="144.8" x2="165.5" y2="144.8" stroke="#555" stroke-width="0.7"/>
<text x="161.9" y="146.3" font-size="4.3" text-anchor="end" fill="#444" stroke="#444" stroke-width="0.18">1200</text>
<line x1="162.9" y1="162.3" x2="165.5" y2="162.3" stroke="#555" stroke-width="0.7"/>
<text x="161.9" y="163.8" font-size="4.3" text-anchor="end" fill="#444" stroke="#444" stroke-width="0.18">900</text>
<line x1="162.9" y1="179.8" x2="165.5" y2="179.8" stroke="#555" stroke-width="0.7"/>
<text x="161.9" y="181.3" font-size="4.3" text-anchor="end" fill="#444" stroke="#444" stroke-width="0.18">600</text>
<line x1="162.9" y1="196.7" x2="165.5" y2="196.7" stroke="#555" stroke-width="0.7"/>
<text x="161.9" y="198.2" font-size="4.3" text-anchor="end" fill="#444" stroke="#444" stroke-width="0.18">300</text>
<line x1="164.3" y1="131.7" x2="165.5" y2="131.7" stroke="#666" stroke-width="0.6"/>
<line x1="164.3" y1="136.1" x2="165.5" y2="136.1" stroke="#666" stroke-width="0.6"/>
<line x1="164.3" y1="140.4" x2="165.5" y2="140.4" stroke="#666" stroke-width="0.6"/>
<line x1="164.3" y1="144.8" x2="165.5" y2="144.8" stroke="#666" stroke-width="0.6"/>
<line x1="164.3" y1="149.2" x2="165.5" y2="149.2" stroke="#666" stroke-width="0.6"/>
<line x1="164.3" y1="153.6" x2="165.5" y2="153.6" stroke="#666" stroke-width="0.6"/>
<line x1="164.3" y1="157.9" x2="165.5" y2="157.9" stroke="#666" stroke-width="0.6"/>
<line x1="164.3" y1="162.3" x2="165.5" y2="162.3" stroke="#666" stroke-width="0.6"/>
<line x1="164.3" y1="166.7" x2="165.5" y2="166.7" stroke="#666" stroke-width="0.6"/>
<line x1="164.3" y1="171.1" x2="165.5" y2="171.1" stroke="#666" stroke-width="0.6"/>
<line x1="164.3" y1="175.4" x2="165.5" y2="175.4" stroke="#666" stroke-width="0.6"/>
<line x1="164.3" y1="179.8" x2="165.5" y2="179.8" stroke="#666" stroke-width="0.6"/>
<line x1="164.3" y1="184.2" x2="165.5" y2="184.2" stroke="#666" stroke-width="0.6"/>
<line x1="164.3" y1="188.6" x2="165.5" y2="188.6" stroke="#666" stroke-width="0.6"/>
<line x1="164.3" y1="192.9" x2="165.5" y2="192.9" stroke="#666" stroke-width="0.6"/>
<line x1="164.3" y1="197.3" x2="165.5" y2="197.3" stroke="#666" stroke-width="0.6"/>
<line x1="164.3" y1="201.7" x2="165.5" y2="201.7" stroke="#666" stroke-width="0.6"/>
<line x1="164.3" y1="206.1" x2="165.5" y2="206.1" stroke="#666" stroke-width="0.6"/>
<line x1="164.3" y1="210.4" x2="165.5" y2="210.4" stroke="#666" stroke-width="0.6"/>
<text x="144.5" y="174.35000000000002" font-size="4.3" text-anchor="middle" fill="#555" transform="rotate(-90 144.5 174.35000000000002)" stroke="#555" stroke-width="0.12">Histogram</text>
<line x1="166.5" y1="214.4" x2="166.5" y2="216.4" stroke="#777" stroke-width="0.6"/>
<text x="166.5" y="221.8" font-size="4.2" text-anchor="middle" fill="#444" stroke="#444" stroke-width="0.15">10<tspan font-size="2.8" dy="-1.6">0</tspan></text>
<line x1="187.6" y1="214.4" x2="187.6" y2="216.4" stroke="#777" stroke-width="0.6"/>
<text x="187.6" y="221.8" font-size="4.2" text-anchor="middle" fill="#444" stroke="#444" stroke-width="0.15">10<tspan font-size="2.8" dy="-1.6">1</tspan></text>
<line x1="208.7" y1="214.4" x2="208.7" y2="216.4" stroke="#777" stroke-width="0.6"/>
<text x="208.7" y="221.8" font-size="4.2" text-anchor="middle" fill="#444" stroke="#444" stroke-width="0.15">10<tspan font-size="2.8" dy="-1.6">2</tspan></text>
<line x1="229.8" y1="214.4" x2="229.8" y2="216.4" stroke="#777" stroke-width="0.6"/>
<text x="229.8" y="221.8" font-size="4.2" text-anchor="middle" fill="#444" stroke="#444" stroke-width="0.15">10<tspan font-size="2.8" dy="-1.6">3</tspan></text>
<line x1="250.9" y1="214.4" x2="250.9" y2="216.4" stroke="#777" stroke-width="0.6"/>
<text x="250.9" y="221.8" font-size="4.2" text-anchor="middle" fill="#444" stroke="#444" stroke-width="0.15">10<tspan font-size="2.8" dy="-1.6">4</tspan></text>
<text x="226.5" y="227.0" font-size="4.2" text-anchor="middle" fill="#444" stroke="#444" stroke-width="0.12">FL 2 Log: Annex V PE</text>
<path d="M280.5 214.6 L280.5 211.78 L280.75 211.32 L281.01 211.13 L281.26 209.86 L281.52 209.66 L281.77 209.12 L282.03 208.85 L282.28 208.89 L282.54 207.31 L282.79 207.87 L283.05 206.52 L283.3 206.21 L283.65 205.28 L284.0 205.29 L284.35 205.76 L284.7 204.66 L285.05 204.47 L285.4 203.09 L285.75 202.6 L286.1 202.1 L286.29 202.15 L286.49 201.73 L286.68 201.5 L286.87 199.49 L287.06 200.34 L287.26 200.14 L287.45 198.94 L287.64 197.43 L287.84 197.41 L288.03 196.3 L288.22 196.14 L288.41 197.09 L288.61 195.94 L288.8 195.52 L288.88 195.23 L288.96 194.93 L289.05 193.79 L289.13 193.26 L289.21 192.73 L289.29 192.33 L289.38 191.58 L289.46 191.21 L289.54 189.73 L289.62 190.09 L289.71 189.13 L289.79 189.2 L289.87 187.33 L289.95 186.94 L290.04 186.11 L290.12 187.04 L290.2 186.78 L290.28 185.72 L290.36 184.6 L290.45 184.96 L290.53 184.35 L290.61 183.35 L290.69 182.2 L290.78 181.75 L290.86 181.44 L290.94 180.69 L291.02 180.37 L291.11 180.25 L291.19 180.29 L291.27 177.99 L291.35 178.47 L291.44 176.87 L291.52 176.48 L291.6 177.32 L291.65 176.3 L291.7 176.44 L291.75 174.95 L291.81 173.53 L291.86 173.73 L291.91 173.59 L291.96 173.73 L292.01 173.27 L292.06 171.71 L292.11 171.04 L292.16 169.87 L292.22 170.41 L292.27 168.99 L292.32 168.32 L292.37 167.5 L292.42 166.93 L292.47 167.74 L292.52 166.07 L292.58 167.21 L292.63 164.9 L292.68 165.92 L292.73 163.89 L292.78 163.12 L292.83 163.97 L292.88 162.47 L292.94 162.9 L292.99 161.26 L293.04 160.44 L293.09 161.34 L293.14 160.67 L293.19 160.4 L293.24 159.6 L293.29 157.76 L293.35 158.3 L293.4 157.92 L293.45 156.87 L293.5 157.26 L293.55 155.35 L293.61 156.21 L293.66 155.15 L293.72 153.18 L293.77 152.63 L293.83 153.34 L293.88 153.11 L293.94 151.07 L293.99 150.98 L294.05 151.25 L294.1 149.57 L294.15 150.39 L294.21 149.08 L294.26 147.67 L294.32 147.73 L294.37 147.58 L294.43 146.75 L294.48 146.66 L294.54 145.04 L294.59 145.78 L294.65 144.35 L294.7 144.36 L294.75 143.77 L294.81 142.78 L294.86 142.16 L294.92 142.4 L294.97 142.15 L295.03 141.27 L295.08 140.28 L295.14 139.17 L295.19 138.14 L295.25 139.41 L295.3 138.31 L295.49 137.98 L295.68 136.41 L295.86 136.39 L296.05 136.55 L296.24 135.69 L296.43 134.65 L296.61 133.49 L296.8 133.16 L296.95 134.62 L297.1 134.14 L297.25 135.29 L297.4 135.67 L297.55 136.8 L297.7 137.16 L297.85 136.66 L298.0 136.64 L298.15 137.7 L298.3 138.56 L298.45 139.43 L298.6 140.43 L298.65 141.13 L298.7 139.99 L298.74 142.12 L298.79 142.63 L298.84 143.3 L298.88 143.26 L298.93 143.22 L298.98 144.92 L299.03 145.39 L299.08 145.69 L299.12 146.7 L299.17 146.12 L299.22 146.15 L299.26 147.64 L299.31 148.68 L299.36 148.04 L299.41 149.69 L299.46 150.61 L299.5 149.77 L299.55 151.06 L299.6 151.76 L299.64 151.89 L299.69 151.92 L299.74 152.57 L299.79 154.11 L299.84 154.75 L299.88 154.64 L299.93 154.45 L299.98 156.44 L300.02 156.92 L300.07 156.39 L300.12 157.64 L300.17 158.83 L300.22 159.36 L300.26 159.18 L300.31 159.64 L300.36 160.42 L300.4 160.17 L300.45 160.73 L300.5 161.26 L300.54 162.85 L300.58 162.73 L300.61 163.68 L300.65 163.91 L300.69 164.69 L300.73 164.5 L300.77 164.85 L300.81 167.3 L300.84 166.61 L300.88 166.62 L300.92 168.23 L300.96 169.09 L301.0 168.38 L301.04 169.81 L301.07 169.86 L301.11 170.76 L301.15 170.31 L301.19 170.89 L301.23 173.35 L301.27 173.65 L301.3 173.44 L301.34 174.16 L301.38 174.1 L301.42 175.68 L301.46 175.53 L301.5 177.12 L301.53 177.31 L301.57 177.97 L301.61 178.81 L301.65 177.94 L301.69 178.06 L301.73 178.94 L301.76 179.45 L301.8 179.8 L301.84 180.29 L301.88 181.85 L301.92 183.03 L301.96 182.76 L301.99 184.29 L302.03 184.76 L302.07 183.62 L302.11 185.24 L302.15 185.39 L302.19 185.39 L302.22 187.62 L302.26 186.76 L302.3 187.93 L302.36 188.63 L302.43 189.82 L302.49 189.8 L302.55 189.8 L302.62 190.46 L302.68 190.44 L302.74 192.6 L302.81 193.21 L302.87 192.22 L302.93 192.41 L303.0 193.4 L303.06 194.14 L303.12 195.8 L303.19 196.36 L303.25 196.77 L303.31 195.75 L303.38 197.78 L303.44 198.18 L303.5 198.61 L303.57 199.84 L303.63 198.53 L303.69 199.26 L303.76 201.04 L303.82 201.96 L303.88 201.99 L303.95 201.78 L304.01 202.92 L304.07 203.81 L304.14 203.06 L304.2 204.05 L304.44 204.41 L304.67 204.65 L304.91 205.86 L305.15 205.74 L305.38 206.38 L305.62 206.69 L305.85 208.26 L306.09 207.43 L306.33 209.31 L306.56 208.87 L306.8 209.17 L307.37 210.66 L307.93 209.68 L308.5 210.84 L309.07 210.83 L309.63 210.94 L310.2 210.01 L310.77 210.53 L311.33 210.18 L311.9 211.34 L312.47 211.2 L313.04 210.89 L313.61 210.62 L314.18 210.43 L314.75 211.04 L315.32 210.54 L315.88 210.7 L316.45 210.0 L317.02 210.07 L317.59 209.8 L318.16 210.68 L318.73 210.41 L319.3 209.79 L319.83 211.02 L320.36 210.43 L320.89 210.84 L321.41 210.76 L321.94 211.13 L322.47 211.93 L323.0 211.65 L323.57 211.57 L324.14 211.93 L324.71 211.85 L325.28 212.42 L325.85 211.83 L326.42 212.6 L326.98 211.94 L327.55 212.65 L328.12 212.55 L328.69 212.29 L329.26 212.55 L329.83 212.49 L330.4 212.55 L330.95 212.56 L331.51 212.71 L332.06 213.12 L332.62 213.17 L333.17 213.16 L333.73 212.75 L334.28 212.9 L334.84 213.26 L335.39 213.1 L335.95 213.15 L336.5 213.19 L337.06 213.24 L337.62 213.28 L338.17 213.33 L338.73 213.38 L339.28 213.42 L339.83 213.47 L340.39 213.51 L340.94 213.56 L341.5 213.6 L342.06 213.64 L342.62 213.68 L343.18 213.72 L343.74 213.76 L344.3 213.8 L344.87 213.83 L345.43 213.87 L345.99 213.91 L346.55 213.95 L347.11 213.99 L347.67 214.03 L348.23 214.07 L348.79 214.11 L349.35 214.15 L349.91 214.19 L350.47 214.23 L351.03 214.27 L351.6 214.3 L352.16 214.34 L352.72 214.38 L353.28 214.42 L353.84 214.46 L354.4 214.5 L354.96 214.5 L355.52 214.51 L356.09 214.51 L356.65 214.52 L357.21 214.52 L357.77 214.53 L358.33 214.53 L358.9 214.54 L359.46 214.54 L360.02 214.55 L360.58 214.55 L361.14 214.56 L361.7 214.56 L362.27 214.57 L362.83 214.57 L363.39 214.58 L363.95 214.58 L364.51 214.59 L365.08 214.59 L365.64 214.6 L366.2 214.6 L366.2 214.6 Z" fill="#b4b4b4" stroke="none"/>
<path d="M280.5 211.78 L280.75 211.32 L281.01 211.13 L281.26 209.86 L281.52 209.66 L281.77 209.12 L282.03 208.85 L282.28 208.89 L282.54 207.31 L282.79 207.87 L283.05 206.52 L283.3 206.21 L283.65 205.28 L284.0 205.29 L284.35 205.76 L284.7 204.66 L285.05 204.47 L285.4 203.09 L285.75 202.6 L286.1 202.1 L286.29 202.15 L286.49 201.73 L286.68 201.5 L286.87 199.49 L287.06 200.34 L287.26 200.14 L287.45 198.94 L287.64 197.43 L287.84 197.41 L288.03 196.3 L288.22 196.14 L288.41 197.09 L288.61 195.94 L288.8 195.52 L288.88 195.23 L288.96 194.93 L289.05 193.79 L289.13 193.26 L289.21 192.73 L289.29 192.33 L289.38 191.58 L289.46 191.21 L289.54 189.73 L289.62 190.09 L289.71 189.13 L289.79 189.2 L289.87 187.33 L289.95 186.94 L290.04 186.11 L290.12 187.04 L290.2 186.78 L290.28 185.72 L290.36 184.6 L290.45 184.96 L290.53 184.35 L290.61 183.35 L290.69 182.2 L290.78 181.75 L290.86 181.44 L290.94 180.69 L291.02 180.37 L291.11 180.25 L291.19 180.29 L291.27 177.99 L291.35 178.47 L291.44 176.87 L291.52 176.48 L291.6 177.32 L291.65 176.3 L291.7 176.44 L291.75 174.95 L291.81 173.53 L291.86 173.73 L291.91 173.59 L291.96 173.73 L292.01 173.27 L292.06 171.71 L292.11 171.04 L292.16 169.87 L292.22 170.41 L292.27 168.99 L292.32 168.32 L292.37 167.5 L292.42 166.93 L292.47 167.74 L292.52 166.07 L292.58 167.21 L292.63 164.9 L292.68 165.92 L292.73 163.89 L292.78 163.12 L292.83 163.97 L292.88 162.47 L292.94 162.9 L292.99 161.26 L293.04 160.44 L293.09 161.34 L293.14 160.67 L293.19 160.4 L293.24 159.6 L293.29 157.76 L293.35 158.3 L293.4 157.92 L293.45 156.87 L293.5 157.26 L293.55 155.35 L293.61 156.21 L293.66 155.15 L293.72 153.18 L293.77 152.63 L293.83 153.34 L293.88 153.11 L293.94 151.07 L293.99 150.98 L294.05 151.25 L294.1 149.57 L294.15 150.39 L294.21 149.08 L294.26 147.67 L294.32 147.73 L294.37 147.58 L294.43 146.75 L294.48 146.66 L294.54 145.04 L294.59 145.78 L294.65 144.35 L294.7 144.36 L294.75 143.77 L294.81 142.78 L294.86 142.16 L294.92 142.4 L294.97 142.15 L295.03 141.27 L295.08 140.28 L295.14 139.17 L295.19 138.14 L295.25 139.41 L295.3 138.31 L295.49 137.98 L295.68 136.41 L295.86 136.39 L296.05 136.55 L296.24 135.69 L296.43 134.65 L296.61 133.49 L296.8 133.16 L296.95 134.62 L297.1 134.14 L297.25 135.29 L297.4 135.67 L297.55 136.8 L297.7 137.16 L297.85 136.66 L298.0 136.64 L298.15 137.7 L298.3 138.56 L298.45 139.43 L298.6 140.43 L298.65 141.13 L298.7 139.99 L298.74 142.12 L298.79 142.63 L298.84 143.3 L298.88 143.26 L298.93 143.22 L298.98 144.92 L299.03 145.39 L299.08 145.69 L299.12 146.7 L299.17 146.12 L299.22 146.15 L299.26 147.64 L299.31 148.68 L299.36 148.04 L299.41 149.69 L299.46 150.61 L299.5 149.77 L299.55 151.06 L299.6 151.76 L299.64 151.89 L299.69 151.92 L299.74 152.57 L299.79 154.11 L299.84 154.75 L299.88 154.64 L299.93 154.45 L299.98 156.44 L300.02 156.92 L300.07 156.39 L300.12 157.64 L300.17 158.83 L300.22 159.36 L300.26 159.18 L300.31 159.64 L300.36 160.42 L300.4 160.17 L300.45 160.73 L300.5 161.26 L300.54 162.85 L300.58 162.73 L300.61 163.68 L300.65 163.91 L300.69 164.69 L300.73 164.5 L300.77 164.85 L300.81 167.3 L300.84 166.61 L300.88 166.62 L300.92 168.23 L300.96 169.09 L301.0 168.38 L301.04 169.81 L301.07 169.86 L301.11 170.76 L301.15 170.31 L301.19 170.89 L301.23 173.35 L301.27 173.65 L301.3 173.44 L301.34 174.16 L301.38 174.1 L301.42 175.68 L301.46 175.53 L301.5 177.12 L301.53 177.31 L301.57 177.97 L301.61 178.81 L301.65 177.94 L301.69 178.06 L301.73 178.94 L301.76 179.45 L301.8 179.8 L301.84 180.29 L301.88 181.85 L301.92 183.03 L301.96 182.76 L301.99 184.29 L302.03 184.76 L302.07 183.62 L302.11 185.24 L302.15 185.39 L302.19 185.39 L302.22 187.62 L302.26 186.76 L302.3 187.93 L302.36 188.63 L302.43 189.82 L302.49 189.8 L302.55 189.8 L302.62 190.46 L302.68 190.44 L302.74 192.6 L302.81 193.21 L302.87 192.22 L302.93 192.41 L303.0 193.4 L303.06 194.14 L303.12 195.8 L303.19 196.36 L303.25 196.77 L303.31 195.75 L303.38 197.78 L303.44 198.18 L303.5 198.61 L303.57 199.84 L303.63 198.53 L303.69 199.26 L303.76 201.04 L303.82 201.96 L303.88 201.99 L303.95 201.78 L304.01 202.92 L304.07 203.81 L304.14 203.06 L304.2 204.05 L304.44 204.41 L304.67 204.65 L304.91 205.86 L305.15 205.74 L305.38 206.38 L305.62 206.69 L305.85 208.26 L306.09 207.43 L306.33 209.31 L306.56 208.87 L306.8 209.17 L307.37 210.66 L307.93 209.68 L308.5 210.84 L309.07 210.83 L309.63 210.94 L310.2 210.01 L310.77 210.53 L311.33 210.18 L311.9 211.34 L312.47 211.2 L313.04 210.89 L313.61 210.62 L314.18 210.43 L314.75 211.04 L315.32 210.54 L315.88 210.7 L316.45 210.0 L317.02 210.07 L317.59 209.8 L318.16 210.68 L318.73 210.41 L319.3 209.79 L319.83 211.02 L320.36 210.43 L320.89 210.84 L321.41 210.76 L321.94 211.13 L322.47 211.93 L323.0 211.65 L323.57 211.57 L324.14 211.93 L324.71 211.85 L325.28 212.42 L325.85 211.83 L326.42 212.6 L326.98 211.94 L327.55 212.65 L328.12 212.55 L328.69 212.29 L329.26 212.55 L329.83 212.49 L330.4 212.55 L330.95 212.56 L331.51 212.71 L332.06 213.12 L332.62 213.17 L333.17 213.16 L333.73 212.75 L334.28 212.9 L334.84 213.26 L335.39 213.1 L335.95 213.15 L336.5 213.19 L337.06 213.24 L337.62 213.28 L338.17 213.33 L338.73 213.38 L339.28 213.42 L339.83 213.47 L340.39 213.51 L340.94 213.56 L341.5 213.6 L342.06 213.64 L342.62 213.68 L343.18 213.72 L343.74 213.76 L344.3 213.8 L344.87 213.83 L345.43 213.87 L345.99 213.91 L346.55 213.95 L347.11 213.99 L347.67 214.03 L348.23 214.07 L348.79 214.11 L349.35 214.15 L349.91 214.19 L350.47 214.23 L351.03 214.27 L351.6 214.3 L352.16 214.34 L352.72 214.38 L353.28 214.42 L353.84 214.46 L354.4 214.5 L354.96 214.5 L355.52 214.51 L356.09 214.51 L356.65 214.52 L357.21 214.52 L357.77 214.53 L358.33 214.53 L358.9 214.54 L359.46 214.54 L360.02 214.55 L360.58 214.55 L361.14 214.56 L361.7 214.56 L362.27 214.57 L362.83 214.57 L363.39 214.58 L363.95 214.58 L364.51 214.59 L365.08 214.59 L365.64 214.6 L366.2 214.6" fill="none" stroke="#333" stroke-width="0.85"/>
<rect x="280.3" y="128.3" width="86.1" height="86.3" fill="none" stroke="#858585" stroke-width="0.9"/>
<line x1="308.8" y1="152.7" x2="366.4" y2="152.7" stroke="#666" stroke-width="0.8"/>
<line x1="308.8" y1="151.1" x2="308.8" y2="154.29999999999998" stroke="#666" stroke-width="0.8"/>
<text x="337.6" y="151.89999999999998" font-size="4.4" text-anchor="middle" fill="#444" stroke="#444" stroke-width="0.15">11</text>
<line x1="277.7" y1="142.9" x2="280.3" y2="142.9" stroke="#555" stroke-width="0.7"/>
<text x="276.7" y="144.4" font-size="4.3" text-anchor="end" fill="#444" stroke="#444" stroke-width="0.18">1000</text>
<line x1="277.7" y1="156.9" x2="280.3" y2="156.9" stroke="#555" stroke-width="0.7"/>
<text x="276.7" y="158.4" font-size="4.3" text-anchor="end" fill="#444" stroke="#444" stroke-width="0.18">800</text>
<line x1="277.7" y1="171" x2="280.3" y2="171" stroke="#555" stroke-width="0.7"/>
<text x="276.7" y="172.5" font-size="4.3" text-anchor="end" fill="#444" stroke="#444" stroke-width="0.18">600</text>
<line x1="277.7" y1="185.4" x2="280.3" y2="185.4" stroke="#555" stroke-width="0.7"/>
<text x="276.7" y="186.9" font-size="4.3" text-anchor="end" fill="#444" stroke="#444" stroke-width="0.18">400</text>
<line x1="277.7" y1="200.2" x2="280.3" y2="200.2" stroke="#555" stroke-width="0.7"/>
<text x="276.7" y="201.7" font-size="4.3" text-anchor="end" fill="#444" stroke="#444" stroke-width="0.18">200</text>
<line x1="279.1" y1="132.4" x2="280.3" y2="132.4" stroke="#666" stroke-width="0.6"/>
<line x1="279.1" y1="135.9" x2="280.3" y2="135.9" stroke="#666" stroke-width="0.6"/>
<line x1="279.1" y1="139.4" x2="280.3" y2="139.4" stroke="#666" stroke-width="0.6"/>
<line x1="279.1" y1="142.9" x2="280.3" y2="142.9" stroke="#666" stroke-width="0.6"/>
<line x1="279.1" y1="146.4" x2="280.3" y2="146.4" stroke="#666" stroke-width="0.6"/>
<line x1="279.1" y1="149.9" x2="280.3" y2="149.9" stroke="#666" stroke-width="0.6"/>
<line x1="279.1" y1="153.4" x2="280.3" y2="153.4" stroke="#666" stroke-width="0.6"/>
<line x1="279.1" y1="156.9" x2="280.3" y2="156.9" stroke="#666" stroke-width="0.6"/>
<line x1="279.1" y1="160.4" x2="280.3" y2="160.4" stroke="#666" stroke-width="0.6"/>
<line x1="279.1" y1="163.9" x2="280.3" y2="163.9" stroke="#666" stroke-width="0.6"/>
<line x1="279.1" y1="167.4" x2="280.3" y2="167.4" stroke="#666" stroke-width="0.6"/>
<line x1="279.1" y1="170.9" x2="280.3" y2="170.9" stroke="#666" stroke-width="0.6"/>
<line x1="279.1" y1="174.4" x2="280.3" y2="174.4" stroke="#666" stroke-width="0.6"/>
<line x1="279.1" y1="177.9" x2="280.3" y2="177.9" stroke="#666" stroke-width="0.6"/>
<line x1="279.1" y1="181.4" x2="280.3" y2="181.4" stroke="#666" stroke-width="0.6"/>
<line x1="279.1" y1="184.9" x2="280.3" y2="184.9" stroke="#666" stroke-width="0.6"/>
<line x1="279.1" y1="188.4" x2="280.3" y2="188.4" stroke="#666" stroke-width="0.6"/>
<line x1="279.1" y1="191.9" x2="280.3" y2="191.9" stroke="#666" stroke-width="0.6"/>
<line x1="279.1" y1="195.4" x2="280.3" y2="195.4" stroke="#666" stroke-width="0.6"/>
<line x1="279.1" y1="198.9" x2="280.3" y2="198.9" stroke="#666" stroke-width="0.6"/>
<line x1="279.1" y1="202.4" x2="280.3" y2="202.4" stroke="#666" stroke-width="0.6"/>
<line x1="279.1" y1="205.9" x2="280.3" y2="205.9" stroke="#666" stroke-width="0.6"/>
<line x1="279.1" y1="209.4" x2="280.3" y2="209.4" stroke="#666" stroke-width="0.6"/>
<line x1="279.1" y1="212.9" x2="280.3" y2="212.9" stroke="#666" stroke-width="0.6"/>
<text x="259.3" y="174.45" font-size="4.3" text-anchor="middle" fill="#555" transform="rotate(-90 259.3 174.45)" stroke="#555" stroke-width="0.12">Histogram</text>
<line x1="281.3" y1="214.6" x2="281.3" y2="216.6" stroke="#777" stroke-width="0.6"/>
<text x="281.3" y="222.0" font-size="4.2" text-anchor="middle" fill="#444" stroke="#444" stroke-width="0.15">10<tspan font-size="2.8" dy="-1.6">0</tspan></text>
<line x1="302.3" y1="214.6" x2="302.3" y2="216.6" stroke="#777" stroke-width="0.6"/>
<text x="302.325" y="222.0" font-size="4.2" text-anchor="middle" fill="#444" stroke="#444" stroke-width="0.15">10<tspan font-size="2.8" dy="-1.6">1</tspan></text>
<line x1="323.4" y1="214.6" x2="323.4" y2="216.6" stroke="#777" stroke-width="0.6"/>
<text x="323.35" y="222.0" font-size="4.2" text-anchor="middle" fill="#444" stroke="#444" stroke-width="0.15">10<tspan font-size="2.8" dy="-1.6">2</tspan></text>
<line x1="344.4" y1="214.6" x2="344.4" y2="216.6" stroke="#777" stroke-width="0.6"/>
<text x="344.375" y="222.0" font-size="4.2" text-anchor="middle" fill="#444" stroke="#444" stroke-width="0.15">10<tspan font-size="2.8" dy="-1.6">3</tspan></text>
<line x1="365.4" y1="214.6" x2="365.4" y2="216.6" stroke="#777" stroke-width="0.6"/>
<text x="365.4" y="222.0" font-size="4.2" text-anchor="middle" fill="#444" stroke="#444" stroke-width="0.15">10<tspan font-size="2.8" dy="-1.6">4</tspan></text>
<text x="341.3" y="227.2" font-size="4.2" text-anchor="middle" fill="#444" stroke="#444" stroke-width="0.12">FL 2 Log: Annex V PE</text>
<path d="M394.6 214.4 L394.6 211.42 L395.07 211.7 L395.53 210.94 L396.0 211.42 L396.47 209.91 L396.93 210.64 L397.4 209.66 L397.6 208.77 L397.8 207.92 L398.0 208.98 L398.2 207.84 L398.4 206.63 L398.6 206.6 L398.8 207.02 L399.0 205.11 L399.2 205.29 L399.4 203.89 L399.6 203.45 L399.8 204.1 L400.0 203.45 L400.2 201.89 L400.36 201.12 L400.52 200.59 L400.68 201.09 L400.84 200.33 L400.99 199.34 L401.15 198.67 L401.31 198.94 L401.47 198.59 L401.63 198.25 L401.79 197.25 L401.95 195.95 L402.11 195.14 L402.26 195.93 L402.42 194.74 L402.58 194.83 L402.74 192.95 L402.9 193.92 L402.98 192.42 L403.05 192.89 L403.13 192.38 L403.2 191.09 L403.28 189.59 L403.35 190.83 L403.43 189.41 L403.51 189.65 L403.58 187.89 L403.66 187.19 L403.73 187.93 L403.81 186.45 L403.88 185.49 L403.96 185.36 L404.04 185.26 L404.11 183.53 L404.19 184.01 L404.26 183.32 L404.34 182.91 L404.41 181.57 L404.49 182.21 L404.56 181.86 L404.64 181.41 L404.72 179.77 L404.79 180.01 L404.87 178.8 L404.94 178.99 L405.02 177.06 L405.09 178.13 L405.17 177.75 L405.25 176.28 L405.32 175.77 L405.4 175.26 L405.47 174.72 L405.55 173.14 L405.62 174.48 L405.7 172.45 L405.76 171.81 L405.81 171.09 L405.87 170.83 L405.92 171.4 L405.98 169.27 L406.03 168.84 L406.09 169.49 L406.15 167.93 L406.2 167.01 L406.26 167.62 L406.31 167.01 L406.37 166.35 L406.43 166.15 L406.48 164.39 L406.54 165.37 L406.59 164.5 L406.65 162.6 L406.7 162.2 L406.76 162.38 L406.82 161.84 L406.87 160.84 L406.93 159.97 L406.98 159.97 L407.04 158.88 L407.1 159.23 L407.15 159.21 L407.21 157.22 L407.26 157.52 L407.32 157.31 L407.37 155.58 L407.43 156.35 L407.49 156.01 L407.54 154.36 L407.6 153.86 L407.65 154.14 L407.71 152.96 L407.77 152.14 L407.82 152.67 L407.88 151.79 L407.93 150.35 L407.99 149.6 L408.04 149.23 L408.1 148.87 L408.18 149.4 L408.26 148.49 L408.33 148.14 L408.41 147.39 L408.49 146.89 L408.57 144.74 L408.65 145.11 L408.73 145.43 L408.8 144.82 L408.88 142.89 L408.96 142.67 L409.04 142.53 L409.12 141.44 L409.2 141.21 L409.27 139.73 L409.35 139.89 L409.43 139.47 L409.51 137.95 L409.59 137.62 L409.67 138.72 L409.74 137.77 L409.82 137.53 L409.9 136.37 L410.16 136.16 L410.42 135.75 L410.68 135.19 L410.94 132.93 L411.2 133.58 L411.36 133.37 L411.52 134.74 L411.68 134.47 L411.83 135.55 L411.99 136.86 L412.15 136.79 L412.31 136.59 L412.47 137.67 L412.62 138.04 L412.78 139.62 L412.94 138.83 L413.1 139.41 L413.15 140.65 L413.19 140.15 L413.24 141.65 L413.28 142.92 L413.33 142.59 L413.37 142.65 L413.42 143.6 L413.46 144.29 L413.5 144.07 L413.55 144.57 L413.6 145.14 L413.64 146.02 L413.69 146.8 L413.73 147.11 L413.77 147.57 L413.82 147.82 L413.87 149.29 L413.91 150.42 L413.95 150.52 L414.0 150.99 L414.05 151.7 L414.09 151.36 L414.13 152.93 L414.18 152.98 L414.23 153.71 L414.27 154.39 L414.31 154.66 L414.36 154.89 L414.4 155.31 L414.45 155.82 L414.5 156.95 L414.54 157.25 L414.58 158.2 L414.63 157.61 L414.67 158.84 L414.72 160.41 L414.76 159.72 L414.81 160.91 L414.85 161.33 L414.9 161.47 L414.94 163.43 L414.98 162.59 L415.02 164.1 L415.06 163.42 L415.1 163.79 L415.14 165.95 L415.18 165.64 L415.22 165.43 L415.26 166.64 L415.3 167.29 L415.34 168.43 L415.39 167.73 L415.43 168.51 L415.47 170.53 L415.51 170.64 L415.55 170.03 L415.59 170.94 L415.63 171.52 L415.67 172.72 L415.71 173.15 L415.75 174.17 L415.79 174.67 L415.83 174.61 L415.87 175.6 L415.91 176.16 L415.95 176.75 L415.99 176.73 L416.03 177.9 L416.07 178.3 L416.11 179.26 L416.15 178.24 L416.19 180.28 L416.23 179.09 L416.27 181.17 L416.31 181.36 L416.36 181.73 L416.4 183.21 L416.44 182.98 L416.48 183.23 L416.52 184.51 L416.56 185.24 L416.6 185.26 L416.64 185.35 L416.68 186.05 L416.72 186.61 L416.76 187.7 L416.8 187.39 L416.87 188.15 L416.94 189.04 L417.01 189.27 L417.08 189.71 L417.15 191.2 L417.22 191.89 L417.28 191.76 L417.35 192.21 L417.42 192.26 L417.49 193.06 L417.56 193.31 L417.63 194.74 L417.7 195.31 L417.77 194.89 L417.84 197.12 L417.91 196.49 L417.98 198.1 L418.05 198.65 L418.12 199.46 L418.18 198.52 L418.25 199.53 L418.32 201.06 L418.39 199.83 L418.46 200.46 L418.53 202.06 L418.6 202.49 L418.88 203.86 L419.16 204.09 L419.44 204.14 L419.72 205.58 L420.0 205.13 L420.28 205.65 L420.56 206.51 L420.84 206.44 L421.12 206.9 L421.4 207.89 L421.95 207.53 L422.5 208.86 L423.05 208.44 L423.6 208.27 L424.15 207.55 L424.7 208.23 L425.25 208.42 L425.8 208.86 L426.35 209.01 L426.9 209.68 L427.47 209.88 L428.04 209.07 L428.61 209.03 L429.18 209.4 L429.75 210.09 L430.32 209.01 L430.88 209.37 L431.45 209.9 L432.02 208.87 L432.59 209.16 L433.16 210.29 L433.73 210.08 L434.3 209.62 L434.85 209.11 L435.4 210.44 L435.95 210.24 L436.5 210.54 L437.05 210.89 L437.6 210.85 L438.15 210.34 L438.7 210.12 L439.25 210.42 L439.8 210.81 L440.35 210.89 L440.89 210.62 L441.44 210.71 L441.99 211.29 L442.54 211.35 L443.08 211.18 L443.63 211.91 L444.18 211.64 L444.72 211.17 L445.27 211.6 L445.82 212.02 L446.36 211.7 L446.91 212.1 L447.46 211.64 L448.01 211.98 L448.55 212.46 L449.1 212.36 L449.66 212.45 L450.21 212.15 L450.77 212.39 L451.32 212.46 L451.88 212.3 L452.43 212.57 L452.99 212.53 L453.54 212.85 L454.1 212.62 L454.65 212.55 L455.2 212.41 L455.76 212.46 L456.31 212.84 L456.87 212.5 L457.43 212.53 L457.98 212.6 L458.53 212.82 L459.09 213.01 L459.64 212.93 L460.2 212.9 L460.75 212.96 L461.3 213.01 L461.85 213.06 L462.4 213.12 L462.95 213.18 L463.5 213.23 L464.05 213.28 L464.6 213.34 L465.15 213.4 L465.7 213.45 L466.25 213.5 L466.8 213.56 L467.35 213.62 L467.9 213.67 L468.45 213.72 L469.0 213.78 L469.55 213.84 L470.1 213.89 L470.65 213.94 L471.2 214.0 L471.78 214.03 L472.36 214.05 L472.94 214.07 L473.52 214.1 L474.11 214.12 L474.69 214.15 L475.27 214.18 L475.85 214.2 L476.43 214.22 L477.01 214.25 L477.59 214.28 L478.18 214.3 L478.76 214.33 L479.34 214.35 L479.92 214.38 L480.5 214.4 L480.5 214.4 Z" fill="#b4b4b4" stroke="none"/>
<path d="M394.6 211.42 L395.07 211.7 L395.53 210.94 L396.0 211.42 L396.47 209.91 L396.93 210.64 L397.4 209.66 L397.6 208.77 L397.8 207.92 L398.0 208.98 L398.2 207.84 L398.4 206.63 L398.6 206.6 L398.8 207.02 L399.0 205.11 L399.2 205.29 L399.4 203.89 L399.6 203.45 L399.8 204.1 L400.0 203.45 L400.2 201.89 L400.36 201.12 L400.52 200.59 L400.68 201.09 L400.84 200.33 L400.99 199.34 L401.15 198.67 L401.31 198.94 L401.47 198.59 L401.63 198.25 L401.79 197.25 L401.95 195.95 L402.11 195.14 L402.26 195.93 L402.42 194.74 L402.58 194.83 L402.74 192.95 L402.9 193.92 L402.98 192.42 L403.05 192.89 L403.13 192.38 L403.2 191.09 L403.28 189.59 L403.35 190.83 L403.43 189.41 L403.51 189.65 L403.58 187.89 L403.66 187.19 L403.73 187.93 L403.81 186.45 L403.88 185.49 L403.96 185.36 L404.04 185.26 L404.11 183.53 L404.19 184.01 L404.26 183.32 L404.34 182.91 L404.41 181.57 L404.49 182.21 L404.56 181.86 L404.64 181.41 L404.72 179.77 L404.79 180.01 L404.87 178.8 L404.94 178.99 L405.02 177.06 L405.09 178.13 L405.17 177.75 L405.25 176.28 L405.32 175.77 L405.4 175.26 L405.47 174.72 L405.55 173.14 L405.62 174.48 L405.7 172.45 L405.76 171.81 L405.81 171.09 L405.87 170.83 L405.92 171.4 L405.98 169.27 L406.03 168.84 L406.09 169.49 L406.15 167.93 L406.2 167.01 L406.26 167.62 L406.31 167.01 L406.37 166.35 L406.43 166.15 L406.48 164.39 L406.54 165.37 L406.59 164.5 L406.65 162.6 L406.7 162.2 L406.76 162.38 L406.82 161.84 L406.87 160.84 L406.93 159.97 L406.98 159.97 L407.04 158.88 L407.1 159.23 L407.15 159.21 L407.21 157.22 L407.26 157.52 L407.32 157.31 L407.37 155.58 L407.43 156.35 L407.49 156.01 L407.54 154.36 L407.6 153.86 L407.65 154.14 L407.71 152.96 L407.77 152.14 L407.82 152.67 L407.88 151.79 L407.93 150.35 L407.99 149.6 L408.04 149.23 L408.1 148.87 L408.18 149.4 L408.26 148.49 L408.33 148.14 L408.41 147.39 L408.49 146.89 L408.57 144.74 L408.65 145.11 L408.73 145.43 L408.8 144.82 L408.88 142.89 L408.96 142.67 L409.04 142.53 L409.12 141.44 L409.2 141.21 L409.27 139.73 L409.35 139.89 L409.43 139.47 L409.51 137.95 L409.59 137.62 L409.67 138.72 L409.74 137.77 L409.82 137.53 L409.9 136.37 L410.16 136.16 L410.42 135.75 L410.68 135.19 L410.94 132.93 L411.2 133.58 L411.36 133.37 L411.52 134.74 L411.68 134.47 L411.83 135.55 L411.99 136.86 L412.15 136.79 L412.31 136.59 L412.47 137.67 L412.62 138.04 L412.78 139.62 L412.94 138.83 L413.1 139.41 L413.15 140.65 L413.19 140.15 L413.24 141.65 L413.28 142.92 L413.33 142.59 L413.37 142.65 L413.42 143.6 L413.46 144.29 L413.5 144.07 L413.55 144.57 L413.6 145.14 L413.64 146.02 L413.69 146.8 L413.73 147.11 L413.77 147.57 L413.82 147.82 L413.87 149.29 L413.91 150.42 L413.95 150.52 L414.0 150.99 L414.05 151.7 L414.09 151.36 L414.13 152.93 L414.18 152.98 L414.23 153.71 L414.27 154.39 L414.31 154.66 L414.36 154.89 L414.4 155.31 L414.45 155.82 L414.5 156.95 L414.54 157.25 L414.58 158.2 L414.63 157.61 L414.67 158.84 L414.72 160.41 L414.76 159.72 L414.81 160.91 L414.85 161.33 L414.9 161.47 L414.94 163.43 L414.98 162.59 L415.02 164.1 L415.06 163.42 L415.1 163.79 L415.14 165.95 L415.18 165.64 L415.22 165.43 L415.26 166.64 L415.3 167.29 L415.34 168.43 L415.39 167.73 L415.43 168.51 L415.47 170.53 L415.51 170.64 L415.55 170.03 L415.59 170.94 L415.63 171.52 L415.67 172.72 L415.71 173.15 L415.75 174.17 L415.79 174.67 L415.83 174.61 L415.87 175.6 L415.91 176.16 L415.95 176.75 L415.99 176.73 L416.03 177.9 L416.07 178.3 L416.11 179.26 L416.15 178.24 L416.19 180.28 L416.23 179.09 L416.27 181.17 L416.31 181.36 L416.36 181.73 L416.4 183.21 L416.44 182.98 L416.48 183.23 L416.52 184.51 L416.56 185.24 L416.6 185.26 L416.64 185.35 L416.68 186.05 L416.72 186.61 L416.76 187.7 L416.8 187.39 L416.87 188.15 L416.94 189.04 L417.01 189.27 L417.08 189.71 L417.15 191.2 L417.22 191.89 L417.28 191.76 L417.35 192.21 L417.42 192.26 L417.49 193.06 L417.56 193.31 L417.63 194.74 L417.7 195.31 L417.77 194.89 L417.84 197.12 L417.91 196.49 L417.98 198.1 L418.05 198.65 L418.12 199.46 L418.18 198.52 L418.25 199.53 L418.32 201.06 L418.39 199.83 L418.46 200.46 L418.53 202.06 L418.6 202.49 L418.88 203.86 L419.16 204.09 L419.44 204.14 L419.72 205.58 L420.0 205.13 L420.28 205.65 L420.56 206.51 L420.84 206.44 L421.12 206.9 L421.4 207.89 L421.95 207.53 L422.5 208.86 L423.05 208.44 L423.6 208.27 L424.15 207.55 L424.7 208.23 L425.25 208.42 L425.8 208.86 L426.35 209.01 L426.9 209.68 L427.47 209.88 L428.04 209.07 L428.61 209.03 L429.18 209.4 L429.75 210.09 L430.32 209.01 L430.88 209.37 L431.45 209.9 L432.02 208.87 L432.59 209.16 L433.16 210.29 L433.73 210.08 L434.3 209.62 L434.85 209.11 L435.4 210.44 L435.95 210.24 L436.5 210.54 L437.05 210.89 L437.6 210.85 L438.15 210.34 L438.7 210.12 L439.25 210.42 L439.8 210.81 L440.35 210.89 L440.89 210.62 L441.44 210.71 L441.99 211.29 L442.54 211.35 L443.08 211.18 L443.63 211.91 L444.18 211.64 L444.72 211.17 L445.27 211.6 L445.82 212.02 L446.36 211.7 L446.91 212.1 L447.46 211.64 L448.01 211.98 L448.55 212.46 L449.1 212.36 L449.66 212.45 L450.21 212.15 L450.77 212.39 L451.32 212.46 L451.88 212.3 L452.43 212.57 L452.99 212.53 L453.54 212.85 L454.1 212.62 L454.65 212.55 L455.2 212.41 L455.76 212.46 L456.31 212.84 L456.87 212.5 L457.43 212.53 L457.98 212.6 L458.53 212.82 L459.09 213.01 L459.64 212.93 L460.2 212.9 L460.75 212.96 L461.3 213.01 L461.85 213.06 L462.4 213.12 L462.95 213.18 L463.5 213.23 L464.05 213.28 L464.6 213.34 L465.15 213.4 L465.7 213.45 L466.25 213.5 L466.8 213.56 L467.35 213.62 L467.9 213.67 L468.45 213.72 L469.0 213.78 L469.55 213.84 L470.1 213.89 L470.65 213.94 L471.2 214.0 L471.78 214.03 L472.36 214.05 L472.94 214.07 L473.52 214.1 L474.11 214.12 L474.69 214.15 L475.27 214.18 L475.85 214.2 L476.43 214.22 L477.01 214.25 L477.59 214.28 L478.18 214.3 L478.76 214.33 L479.34 214.35 L479.92 214.38 L480.5 214.4" fill="none" stroke="#333" stroke-width="0.85"/>
<rect x="394.3" y="128.3" width="86.3" height="86.1" fill="none" stroke="#858585" stroke-width="0.9"/>
<line x1="423.2" y1="152.1" x2="480.6" y2="152.1" stroke="#666" stroke-width="0.8"/>
<line x1="423.2" y1="150.5" x2="423.2" y2="153.7" stroke="#666" stroke-width="0.8"/>
<text x="451.9" y="151.29999999999998" font-size="4.4" text-anchor="middle" fill="#444" stroke="#444" stroke-width="0.15">14</text>
<line x1="391.7" y1="142.9" x2="394.3" y2="142.9" stroke="#555" stroke-width="0.7"/>
<text x="390.7" y="144.4" font-size="4.3" text-anchor="end" fill="#444" stroke="#444" stroke-width="0.18">1000</text>
<line x1="391.7" y1="156.9" x2="394.3" y2="156.9" stroke="#555" stroke-width="0.7"/>
<text x="390.7" y="158.4" font-size="4.3" text-anchor="end" fill="#444" stroke="#444" stroke-width="0.18">800</text>
<line x1="391.7" y1="171" x2="394.3" y2="171" stroke="#555" stroke-width="0.7"/>
<text x="390.7" y="172.5" font-size="4.3" text-anchor="end" fill="#444" stroke="#444" stroke-width="0.18">600</text>
<line x1="391.7" y1="185.4" x2="394.3" y2="185.4" stroke="#555" stroke-width="0.7"/>
<text x="390.7" y="186.9" font-size="4.3" text-anchor="end" fill="#444" stroke="#444" stroke-width="0.18">400</text>
<line x1="391.7" y1="200.2" x2="394.3" y2="200.2" stroke="#555" stroke-width="0.7"/>
<text x="390.7" y="201.7" font-size="4.3" text-anchor="end" fill="#444" stroke="#444" stroke-width="0.18">200</text>
<line x1="393.1" y1="132.4" x2="394.3" y2="132.4" stroke="#666" stroke-width="0.6"/>
<line x1="393.1" y1="135.9" x2="394.3" y2="135.9" stroke="#666" stroke-width="0.6"/>
<line x1="393.1" y1="139.4" x2="394.3" y2="139.4" stroke="#666" stroke-width="0.6"/>
<line x1="393.1" y1="142.9" x2="394.3" y2="142.9" stroke="#666" stroke-width="0.6"/>
<line x1="393.1" y1="146.4" x2="394.3" y2="146.4" stroke="#666" stroke-width="0.6"/>
<line x1="393.1" y1="149.9" x2="394.3" y2="149.9" stroke="#666" stroke-width="0.6"/>
<line x1="393.1" y1="153.4" x2="394.3" y2="153.4" stroke="#666" stroke-width="0.6"/>
<line x1="393.1" y1="156.9" x2="394.3" y2="156.9" stroke="#666" stroke-width="0.6"/>
<line x1="393.1" y1="160.4" x2="394.3" y2="160.4" stroke="#666" stroke-width="0.6"/>
<line x1="393.1" y1="163.9" x2="394.3" y2="163.9" stroke="#666" stroke-width="0.6"/>
<line x1="393.1" y1="167.4" x2="394.3" y2="167.4" stroke="#666" stroke-width="0.6"/>
<line x1="393.1" y1="170.9" x2="394.3" y2="170.9" stroke="#666" stroke-width="0.6"/>
<line x1="393.1" y1="174.4" x2="394.3" y2="174.4" stroke="#666" stroke-width="0.6"/>
<line x1="393.1" y1="177.9" x2="394.3" y2="177.9" stroke="#666" stroke-width="0.6"/>
<line x1="393.1" y1="181.4" x2="394.3" y2="181.4" stroke="#666" stroke-width="0.6"/>
<line x1="393.1" y1="184.9" x2="394.3" y2="184.9" stroke="#666" stroke-width="0.6"/>
<line x1="393.1" y1="188.4" x2="394.3" y2="188.4" stroke="#666" stroke-width="0.6"/>
<line x1="393.1" y1="191.9" x2="394.3" y2="191.9" stroke="#666" stroke-width="0.6"/>
<line x1="393.1" y1="195.4" x2="394.3" y2="195.4" stroke="#666" stroke-width="0.6"/>
<line x1="393.1" y1="198.9" x2="394.3" y2="198.9" stroke="#666" stroke-width="0.6"/>
<line x1="393.1" y1="202.4" x2="394.3" y2="202.4" stroke="#666" stroke-width="0.6"/>
<line x1="393.1" y1="205.9" x2="394.3" y2="205.9" stroke="#666" stroke-width="0.6"/>
<line x1="393.1" y1="209.4" x2="394.3" y2="209.4" stroke="#666" stroke-width="0.6"/>
<line x1="393.1" y1="212.9" x2="394.3" y2="212.9" stroke="#666" stroke-width="0.6"/>
<text x="373.3" y="174.35000000000002" font-size="4.3" text-anchor="middle" fill="#555" transform="rotate(-90 373.3 174.35000000000002)" stroke="#555" stroke-width="0.12">Histogram</text>
<line x1="395.3" y1="214.4" x2="395.3" y2="216.4" stroke="#777" stroke-width="0.6"/>
<text x="395.3" y="221.8" font-size="4.2" text-anchor="middle" fill="#444" stroke="#444" stroke-width="0.15">10<tspan font-size="2.8" dy="-1.6">0</tspan></text>
<line x1="416.4" y1="214.4" x2="416.4" y2="216.4" stroke="#777" stroke-width="0.6"/>
<text x="416.375" y="221.8" font-size="4.2" text-anchor="middle" fill="#444" stroke="#444" stroke-width="0.15">10<tspan font-size="2.8" dy="-1.6">1</tspan></text>
<line x1="437.5" y1="214.4" x2="437.5" y2="216.4" stroke="#777" stroke-width="0.6"/>
<text x="437.45000000000005" y="221.8" font-size="4.2" text-anchor="middle" fill="#444" stroke="#444" stroke-width="0.15">10<tspan font-size="2.8" dy="-1.6">2</tspan></text>
<line x1="458.5" y1="214.4" x2="458.5" y2="216.4" stroke="#777" stroke-width="0.6"/>
<text x="458.52500000000003" y="221.8" font-size="4.2" text-anchor="middle" fill="#444" stroke="#444" stroke-width="0.15">10<tspan font-size="2.8" dy="-1.6">3</tspan></text>
<line x1="479.6" y1="214.4" x2="479.6" y2="216.4" stroke="#777" stroke-width="0.6"/>
<text x="479.6" y="221.8" font-size="4.2" text-anchor="middle" fill="#444" stroke="#444" stroke-width="0.15">10<tspan font-size="2.8" dy="-1.6">4</tspan></text>
<text x="455.3" y="227.0" font-size="4.2" text-anchor="middle" fill="#444" stroke="#444" stroke-width="0.12">FL 2 Log: Annex V PE</text>
<text x="8.0" y="279.8" font-size="17" font-weight="bold" text-anchor="start" fill="#000">B</text>
<text x="28" y="346.9" font-size="13.2" text-anchor="start" fill="#000">CLL</text>
<text x="28" y="363" font-size="13" text-anchor="start" fill="#000">sensitive</text>
<text x="28" y="512.9" font-size="13.2" text-anchor="start" fill="#000">CLL</text>
<text x="28" y="529.0" font-size="13" text-anchor="start" fill="#000">resistant</text>
<line x1="135.6" y1="291.3" x2="135.6" y2="401.09999999999997" stroke="#000" stroke-width="1.4"/>
<line x1="134.9" y1="400.4" x2="297.6" y2="400.4" stroke="#000" stroke-width="1.4"/>
<line x1="132.6" y1="400.4" x2="135.6" y2="400.4" stroke="#000" stroke-width="1.1"/>
<text x="131.1" y="403.5" font-size="8.4" font-weight="bold" text-anchor="end" fill="#000">0</text>
<line x1="132.6" y1="369.4" x2="135.6" y2="369.4" stroke="#000" stroke-width="1.1"/>
<text x="131.1" y="372.5" font-size="8.4" font-weight="bold" text-anchor="end" fill="#000">2</text>
<line x1="132.6" y1="338.4" x2="135.6" y2="338.4" stroke="#000" stroke-width="1.1"/>
<text x="131.1" y="341.5" font-size="8.4" font-weight="bold" text-anchor="end" fill="#000">4</text>
<line x1="132.6" y1="307.4" x2="135.6" y2="307.4" stroke="#000" stroke-width="1.1"/>
<text x="131.1" y="310.5" font-size="8.4" font-weight="bold" text-anchor="end" fill="#000">6</text>
<rect x="138.6" y="315.1" width="13.4" height="85.3" fill="#838383" stroke="#000" stroke-width="1.5"/>
<line x1="145.3" y1="400.4" x2="145.3" y2="404.2" stroke="#000" stroke-width="1.3"/>
<text x="146.75" y="411.4" font-size="8.2" font-weight="bold" text-anchor="end" fill="#000" transform="rotate(-45 146.8 411.4)">0</text>
<rect x="158.9" y="316.0" width="13.4" height="84.4" fill="#838383" stroke="#000" stroke-width="1.5"/>
<line x1="165.7" y1="400.4" x2="165.7" y2="404.2" stroke="#000" stroke-width="1.3"/>
<text x="167.05" y="411.4" font-size="8.2" font-weight="bold" text-anchor="end" fill="#000" transform="rotate(-45 167.1 411.4)">0.023</text>
<rect x="179.2" y="318.2" width="13.4" height="82.2" fill="#838383" stroke="#000" stroke-width="1.5"/>
<line x1="185.9" y1="400.4" x2="185.9" y2="404.2" stroke="#000" stroke-width="1.3"/>
<text x="187.35" y="411.4" font-size="8.2" font-weight="bold" text-anchor="end" fill="#000" transform="rotate(-45 187.3 411.4)">0.069</text>
<rect x="199.5" y="333.7" width="13.4" height="66.7" fill="#838383" stroke="#000" stroke-width="1.5"/>
<line x1="206.2" y1="400.4" x2="206.2" y2="404.2" stroke="#000" stroke-width="1.3"/>
<text x="207.65" y="411.4" font-size="8.2" font-weight="bold" text-anchor="end" fill="#000" transform="rotate(-45 207.7 411.4)">0.206</text>
<rect x="219.8" y="342.7" width="13.4" height="57.7" fill="#838383" stroke="#000" stroke-width="1.5"/>
<line x1="226.5" y1="400.4" x2="226.5" y2="404.2" stroke="#000" stroke-width="1.3"/>
<text x="227.95" y="411.4" font-size="8.2" font-weight="bold" text-anchor="end" fill="#000" transform="rotate(-45 227.9 411.4)">0.617</text>
<rect x="240.1" y="353.8" width="13.4" height="46.6" fill="#838383" stroke="#000" stroke-width="1.5"/>
<line x1="246.8" y1="400.4" x2="246.8" y2="404.2" stroke="#000" stroke-width="1.3"/>
<text x="248.25" y="411.4" font-size="8.2" font-weight="bold" text-anchor="end" fill="#000" transform="rotate(-45 248.2 411.4)">1.852</text>
<rect x="260.4" y="360.8" width="13.4" height="39.6" fill="#838383" stroke="#000" stroke-width="1.5"/>
<line x1="267.1" y1="400.4" x2="267.1" y2="404.2" stroke="#000" stroke-width="1.3"/>
<text x="268.54999999999995" y="411.4" font-size="8.2" font-weight="bold" text-anchor="end" fill="#000" transform="rotate(-45 268.5 411.4)">5.556</text>
<rect x="280.7" y="367.0" width="13.4" height="33.4" fill="#838383" stroke="#000" stroke-width="1.5"/>
<line x1="287.4" y1="400.4" x2="287.4" y2="404.2" stroke="#000" stroke-width="1.3"/>
<text x="288.8499999999999" y="411.4" font-size="8.2" font-weight="bold" text-anchor="end" fill="#000" transform="rotate(-45 288.8 411.4)">16.667</text>
<text x="216.4" y="439.4" font-size="8.8" font-weight="bold" text-anchor="middle" fill="#000">cyclopamine [µM]</text>
<text x="110.4" y="345.6" font-size="8.8" font-weight="bold" text-anchor="middle" fill="#000" transform="rotate(-90 110.4 345.6)">Number of viable</text>
<text x="121.9" y="345.6" font-size="8.8" font-weight="bold" text-anchor="middle" fill="#000" transform="rotate(-90 121.9 345.6)">cells x10<tspan font-size="6.6" dy="-3.6">6</tspan></text>
<line x1="345.0" y1="291.3" x2="345.0" y2="401.09999999999997" stroke="#000" stroke-width="1.4"/>
<line x1="344.3" y1="400.4" x2="507.0" y2="400.4" stroke="#000" stroke-width="1.4"/>
<line x1="342.0" y1="400.4" x2="345.0" y2="400.4" stroke="#000" stroke-width="1.1"/>
<text x="340.5" y="403.5" font-size="8.4" font-weight="bold" text-anchor="end" fill="#000">0</text>
<line x1="342.0" y1="369.4" x2="345.0" y2="369.4" stroke="#000" stroke-width="1.1"/>
<text x="340.5" y="372.5" font-size="8.4" font-weight="bold" text-anchor="end" fill="#000">2</text>
<line x1="342.0" y1="338.4" x2="345.0" y2="338.4" stroke="#000" stroke-width="1.1"/>
<text x="340.5" y="341.5" font-size="8.4" font-weight="bold" text-anchor="end" fill="#000">4</text>
<line x1="342.0" y1="307.4" x2="345.0" y2="307.4" stroke="#000" stroke-width="1.1"/>
<text x="340.5" y="310.5" font-size="8.4" font-weight="bold" text-anchor="end" fill="#000">6</text>
<rect x="348.1" y="308.3" width="13.4" height="92.1" fill="#838383" stroke="#000" stroke-width="1.5"/>
<line x1="354.8" y1="400.4" x2="354.8" y2="404.2" stroke="#000" stroke-width="1.3"/>
<text x="356.15" y="411.4" font-size="8.2" font-weight="bold" text-anchor="end" fill="#000" transform="rotate(-45 356.1 411.4)">0</text>
<rect x="368.4" y="305.2" width="13.4" height="95.2" fill="#838383" stroke="#000" stroke-width="1.5"/>
<line x1="375.1" y1="400.4" x2="375.1" y2="404.2" stroke="#000" stroke-width="1.3"/>
<text x="376.45" y="411.4" font-size="8.2" font-weight="bold" text-anchor="end" fill="#000" transform="rotate(-45 376.4 411.4)">0.023</text>
<rect x="388.7" y="308.3" width="13.4" height="92.1" fill="#838383" stroke="#000" stroke-width="1.5"/>
<line x1="395.4" y1="400.4" x2="395.4" y2="404.2" stroke="#000" stroke-width="1.3"/>
<text x="396.75" y="411.4" font-size="8.2" font-weight="bold" text-anchor="end" fill="#000" transform="rotate(-45 396.8 411.4)">0.069</text>
<rect x="408.9" y="330.7" width="13.4" height="69.7" fill="#838383" stroke="#000" stroke-width="1.5"/>
<line x1="415.6" y1="400.4" x2="415.6" y2="404.2" stroke="#000" stroke-width="1.3"/>
<text x="417.04999999999995" y="411.4" font-size="8.2" font-weight="bold" text-anchor="end" fill="#000" transform="rotate(-45 417.0 411.4)">0.206</text>
<rect x="429.2" y="365.3" width="13.4" height="35.1" fill="#838383" stroke="#000" stroke-width="1.5"/>
<line x1="435.9" y1="400.4" x2="435.9" y2="404.2" stroke="#000" stroke-width="1.3"/>
<text x="437.34999999999997" y="411.4" font-size="8.2" font-weight="bold" text-anchor="end" fill="#000" transform="rotate(-45 437.3 411.4)">0.617</text>
<rect x="449.6" y="362.3" width="13.4" height="38.0" fill="#838383" stroke="#000" stroke-width="1.5"/>
<line x1="456.2" y1="400.4" x2="456.2" y2="404.2" stroke="#000" stroke-width="1.3"/>
<text x="457.65" y="411.4" font-size="8.2" font-weight="bold" text-anchor="end" fill="#000" transform="rotate(-45 457.6 411.4)">1.852</text>
<rect x="469.9" y="363.9" width="13.4" height="36.5" fill="#838383" stroke="#000" stroke-width="1.5"/>
<line x1="476.6" y1="400.4" x2="476.6" y2="404.2" stroke="#000" stroke-width="1.3"/>
<text x="477.95" y="411.4" font-size="8.2" font-weight="bold" text-anchor="end" fill="#000" transform="rotate(-45 477.9 411.4)">5.556</text>
<rect x="490.2" y="359.1" width="13.4" height="41.3" fill="#838383" stroke="#000" stroke-width="1.5"/>
<line x1="496.9" y1="400.4" x2="496.9" y2="404.2" stroke="#000" stroke-width="1.3"/>
<text x="498.25" y="411.4" font-size="8.2" font-weight="bold" text-anchor="end" fill="#000" transform="rotate(-45 498.2 411.4)">16.667</text>
<text x="425.5" y="439.4" font-size="8.8" font-weight="bold" text-anchor="middle" fill="#000">NVP-LDE225 [µM]</text>
<text x="319.8" y="345.6" font-size="8.8" font-weight="bold" text-anchor="middle" fill="#000" transform="rotate(-90 319.8 345.6)">Number of viable</text>
<text x="331.3" y="345.6" font-size="8.8" font-weight="bold" text-anchor="middle" fill="#000" transform="rotate(-90 331.3 345.6)">cells x10<tspan font-size="6.6" dy="-3.6">6</tspan></text>
<line x1="135.6" y1="457.2" x2="135.6" y2="565.9000000000001" stroke="#000" stroke-width="1.4"/>
<line x1="134.9" y1="565.2" x2="297.6" y2="565.2" stroke="#000" stroke-width="1.4"/>
<line x1="132.6" y1="565.2" x2="135.6" y2="565.2" stroke="#000" stroke-width="1.1"/>
<text x="131.1" y="568.3000000000001" font-size="8.4" font-weight="bold" text-anchor="end" fill="#000">0</text>
<line x1="132.6" y1="529.2" x2="135.6" y2="529.2" stroke="#000" stroke-width="1.1"/>
<text x="131.1" y="532.3000000000001" font-size="8.4" font-weight="bold" text-anchor="end" fill="#000">2</text>
<line x1="132.6" y1="493.2" x2="135.6" y2="493.2" stroke="#000" stroke-width="1.1"/>
<text x="131.1" y="496.30000000000007" font-size="8.4" font-weight="bold" text-anchor="end" fill="#000">4</text>
<line x1="132.6" y1="457.2" x2="135.6" y2="457.2" stroke="#000" stroke-width="1.1"/>
<text x="131.1" y="460.30000000000007" font-size="8.4" font-weight="bold" text-anchor="end" fill="#000">6</text>
<rect x="138.6" y="484.7" width="13.4" height="80.5" fill="#838383" stroke="#000" stroke-width="1.5"/>
<line x1="145.3" y1="565.2" x2="145.3" y2="569.0" stroke="#000" stroke-width="1.3"/>
<text x="146.75" y="576.2" font-size="8.2" font-weight="bold" text-anchor="end" fill="#000" transform="rotate(-45 146.8 576.2)">0</text>
<rect x="158.9" y="491.6" width="13.4" height="73.6" fill="#838383" stroke="#000" stroke-width="1.5"/>
<line x1="165.7" y1="565.2" x2="165.7" y2="569.0" stroke="#000" stroke-width="1.3"/>
<text x="167.05" y="576.2" font-size="8.2" font-weight="bold" text-anchor="end" fill="#000" transform="rotate(-45 167.1 576.2)">0.023</text>
<rect x="179.2" y="492.6" width="13.4" height="72.6" fill="#838383" stroke="#000" stroke-width="1.5"/>
<line x1="185.9" y1="565.2" x2="185.9" y2="569.0" stroke="#000" stroke-width="1.3"/>
<text x="187.35" y="576.2" font-size="8.2" font-weight="bold" text-anchor="end" fill="#000" transform="rotate(-45 187.3 576.2)">0.069</text>
<rect x="199.5" y="490.3" width="13.4" height="74.9" fill="#838383" stroke="#000" stroke-width="1.5"/>
<line x1="206.2" y1="565.2" x2="206.2" y2="569.0" stroke="#000" stroke-width="1.3"/>
<text x="207.65" y="576.2" font-size="8.2" font-weight="bold" text-anchor="end" fill="#000" transform="rotate(-45 207.7 576.2)">0.206</text>
<rect x="219.8" y="477.2" width="13.4" height="88.0" fill="#838383" stroke="#000" stroke-width="1.5"/>
<line x1="226.5" y1="565.2" x2="226.5" y2="569.0" stroke="#000" stroke-width="1.3"/>
<text x="227.95" y="576.2" font-size="8.2" font-weight="bold" text-anchor="end" fill="#000" transform="rotate(-45 227.9 576.2)">0.617</text>
<rect x="240.1" y="482.6" width="13.4" height="82.6" fill="#838383" stroke="#000" stroke-width="1.5"/>
<line x1="246.8" y1="565.2" x2="246.8" y2="569.0" stroke="#000" stroke-width="1.3"/>
<text x="248.25" y="576.2" font-size="8.2" font-weight="bold" text-anchor="end" fill="#000" transform="rotate(-45 248.2 576.2)">1.852</text>
<rect x="260.4" y="483.5" width="13.4" height="81.7" fill="#838383" stroke="#000" stroke-width="1.5"/>
<line x1="267.1" y1="565.2" x2="267.1" y2="569.0" stroke="#000" stroke-width="1.3"/>
<text x="268.54999999999995" y="576.2" font-size="8.2" font-weight="bold" text-anchor="end" fill="#000" transform="rotate(-45 268.5 576.2)">5.556</text>
<rect x="280.7" y="490.3" width="13.4" height="74.9" fill="#838383" stroke="#000" stroke-width="1.5"/>
<line x1="287.4" y1="565.2" x2="287.4" y2="569.0" stroke="#000" stroke-width="1.3"/>
<text x="288.8499999999999" y="576.2" font-size="8.2" font-weight="bold" text-anchor="end" fill="#000" transform="rotate(-45 288.8 576.2)">16.667</text>
<text x="216.4" y="604.2" font-size="8.8" font-weight="bold" text-anchor="middle" fill="#000">cyclopamine [µM]</text>
<text x="110.4" y="510.4" font-size="8.8" font-weight="bold" text-anchor="middle" fill="#000" transform="rotate(-90 110.4 510.4)">Number of viable</text>
<text x="121.9" y="510.4" font-size="8.8" font-weight="bold" text-anchor="middle" fill="#000" transform="rotate(-90 121.9 510.4)">cells x10<tspan font-size="6.6" dy="-3.6">6</tspan></text>
<line x1="345.0" y1="457.2" x2="345.0" y2="565.9000000000001" stroke="#000" stroke-width="1.4"/>
<line x1="344.3" y1="565.2" x2="507.0" y2="565.2" stroke="#000" stroke-width="1.4"/>
<line x1="342.0" y1="565.2" x2="345.0" y2="565.2" stroke="#000" stroke-width="1.1"/>
<text x="340.5" y="568.3000000000001" font-size="8.4" font-weight="bold" text-anchor="end" fill="#000">0</text>
<line x1="342.0" y1="529.2" x2="345.0" y2="529.2" stroke="#000" stroke-width="1.1"/>
<text x="340.5" y="532.3000000000001" font-size="8.4" font-weight="bold" text-anchor="end" fill="#000">2</text>
<line x1="342.0" y1="493.2" x2="345.0" y2="493.2" stroke="#000" stroke-width="1.1"/>
<text x="340.5" y="496.30000000000007" font-size="8.4" font-weight="bold" text-anchor="end" fill="#000">4</text>
<line x1="342.0" y1="457.2" x2="345.0" y2="457.2" stroke="#000" stroke-width="1.1"/>
<text x="340.5" y="460.30000000000007" font-size="8.4" font-weight="bold" text-anchor="end" fill="#000">6</text>
<rect x="348.1" y="482.4" width="13.4" height="82.8" fill="#838383" stroke="#000" stroke-width="1.5"/>
<line x1="354.8" y1="565.2" x2="354.8" y2="569.0" stroke="#000" stroke-width="1.3"/>
<text x="356.15" y="576.2" font-size="8.2" font-weight="bold" text-anchor="end" fill="#000" transform="rotate(-45 356.1 576.2)">0</text>
<rect x="368.4" y="486.0" width="13.4" height="79.2" fill="#838383" stroke="#000" stroke-width="1.5"/>
<line x1="375.1" y1="565.2" x2="375.1" y2="569.0" stroke="#000" stroke-width="1.3"/>
<text x="376.45" y="576.2" font-size="8.2" font-weight="bold" text-anchor="end" fill="#000" transform="rotate(-45 376.4 576.2)">0.023</text>
<rect x="388.7" y="483.6" width="13.4" height="81.6" fill="#838383" stroke="#000" stroke-width="1.5"/>
<line x1="395.4" y1="565.2" x2="395.4" y2="569.0" stroke="#000" stroke-width="1.3"/>
<text x="396.75" y="576.2" font-size="8.2" font-weight="bold" text-anchor="end" fill="#000" transform="rotate(-45 396.8 576.2)">0.069</text>
<rect x="408.9" y="478.2" width="13.4" height="87.0" fill="#838383" stroke="#000" stroke-width="1.5"/>
<line x1="415.6" y1="565.2" x2="415.6" y2="569.0" stroke="#000" stroke-width="1.3"/>
<text x="417.04999999999995" y="576.2" font-size="8.2" font-weight="bold" text-anchor="end" fill="#000" transform="rotate(-45 417.0 576.2)">0.206</text>
<rect x="429.2" y="475.4" width="13.4" height="89.8" fill="#838383" stroke="#000" stroke-width="1.5"/>
<line x1="435.9" y1="565.2" x2="435.9" y2="569.0" stroke="#000" stroke-width="1.3"/>
<text x="437.34999999999997" y="576.2" font-size="8.2" font-weight="bold" text-anchor="end" fill="#000" transform="rotate(-45 437.3 576.2)">0.617</text>
<rect x="449.6" y="487.8" width="13.4" height="77.4" fill="#838383" stroke="#000" stroke-width="1.5"/>
<line x1="456.2" y1="565.2" x2="456.2" y2="569.0" stroke="#000" stroke-width="1.3"/>
<text x="457.65" y="576.2" font-size="8.2" font-weight="bold" text-anchor="end" fill="#000" transform="rotate(-45 457.6 576.2)">1.852</text>
<rect x="469.9" y="487.6" width="13.4" height="77.6" fill="#838383" stroke="#000" stroke-width="1.5"/>
<line x1="476.6" y1="565.2" x2="476.6" y2="569.0" stroke="#000" stroke-width="1.3"/>
<text x="477.95" y="576.2" font-size="8.2" font-weight="bold" text-anchor="end" fill="#000" transform="rotate(-45 477.9 576.2)">5.556</text>
<rect x="490.2" y="481.5" width="13.4" height="83.7" fill="#838383" stroke="#000" stroke-width="1.5"/>
<line x1="496.9" y1="565.2" x2="496.9" y2="569.0" stroke="#000" stroke-width="1.3"/>
<text x="498.25" y="576.2" font-size="8.2" font-weight="bold" text-anchor="end" fill="#000" transform="rotate(-45 498.2 576.2)">16.667</text>
<text x="425.5" y="604.2" font-size="8.8" font-weight="bold" text-anchor="middle" fill="#000">NVP-LDE225 [µM]</text>
<text x="319.8" y="510.4" font-size="8.8" font-weight="bold" text-anchor="middle" fill="#000" transform="rotate(-90 319.8 510.4)">Number of viable</text>
<text x="331.3" y="510.4" font-size="8.8" font-weight="bold" text-anchor="middle" fill="#000" transform="rotate(-90 331.3 510.4)">cells x10<tspan font-size="6.6" dy="-3.6">6</tspan></text>
<text x="6.9" y="645.8" font-size="17" font-weight="bold" text-anchor="start" fill="#000">C</text>
<text x="240.8" y="672.5" font-size="18.2" font-weight="bold" text-anchor="middle" fill="#000">SMO-inhibitor response</text>
<polygon points="86.18,752.89 85.06,752.56 83.96,752.22 82.88,751.88 81.83,751.53 80.80,751.18 79.80,750.82 78.82,750.46 77.87,750.09 76.95,749.72 76.05,749.34 75.17,748.96 74.33,748.58 73.51,748.19 72.71,747.80 71.95,747.40 71.21,747.00 70.50,746.60 69.82,746.19 69.17,745.79 68.55,745.37 67.96,744.96 67.39,744.54 66.86,744.12 66.35,743.69 65.88,743.27 65.43,742.84 65.02,742.41 64.63,741.98 64.28,741.55 63.95,741.11 63.66,740.67 63.39,740.24 63.16,739.80 62.96,739.36 62.79,738.91 62.65,738.47 62.54,738.03 62.46,737.59 62.42,737.14 62.40,736.70 62.40,762.70 62.42,763.14 62.46,763.59 62.54,764.03 62.65,764.47 62.79,764.91 62.96,765.36 63.16,765.80 63.39,766.24 63.66,766.67 63.95,767.11 64.28,767.55 64.63,767.98 65.02,768.41 65.43,768.84 65.88,769.27 66.35,769.69 66.86,770.12 67.39,770.54 67.96,770.96 68.55,771.37 69.17,771.79 69.82,772.19 70.50,772.60 71.21,773.00 71.95,773.40 72.71,773.80 73.51,774.19 74.33,774.58 75.17,774.96 76.05,775.34 76.95,775.72 77.87,776.09 78.82,776.46 79.80,776.82 80.80,777.18 81.83,777.53 82.88,777.88 83.96,778.22 85.06,778.56 86.18,778.89" fill="#000" stroke="#000" stroke-width="0.9" stroke-linejoin="round"/>
<polygon points="209.43,756.28 206.65,756.79 203.80,757.27 200.88,757.72 197.90,758.15 194.87,758.54 191.78,758.91 188.64,759.25 185.45,759.55 182.23,759.83 178.97,760.08 175.67,760.29 172.35,760.47 169.01,760.62 165.64,760.74 162.27,760.83 158.88,760.88 155.48,760.90 152.09,760.89 148.70,760.84 145.32,760.77 141.95,760.66 138.60,760.52 135.27,760.34 131.97,760.14 128.70,759.90 125.46,759.64 122.27,759.34 119.12,759.01 116.01,758.65 112.96,758.26 109.97,757.85 107.03,757.40 104.16,756.93 101.36,756.43 98.63,755.90 95.97,755.35 93.40,754.77 90.91,754.17 88.50,753.54 86.18,752.89 86.18,778.89 88.50,779.54 90.91,780.17 93.40,780.77 95.97,781.35 98.63,781.90 101.36,782.43 104.16,782.93 107.03,783.40 109.97,783.85 112.96,784.26 116.01,784.65 119.12,785.01 122.27,785.34 125.46,785.64 128.70,785.90 131.97,786.14 135.27,786.34 138.60,786.52 141.95,786.66 145.32,786.77 148.70,786.84 152.09,786.89 155.48,786.90 158.88,786.88 162.27,786.83 165.64,786.74 169.01,786.62 172.35,786.47 175.67,786.29 178.97,786.08 182.23,785.83 185.45,785.55 188.64,785.25 191.78,784.91 194.87,784.54 197.90,784.15 200.88,783.72 203.80,783.27 206.65,782.79 209.43,782.28" fill="#4e4e4e" stroke="#000" stroke-width="0.9" stroke-linejoin="round"/>
<polygon points="247.60,736.70 247.57,737.27 247.50,737.84 247.37,738.41 247.19,738.98 246.96,739.54 246.68,740.11 246.34,740.67 245.96,741.23 245.53,741.79 245.04,742.35 244.51,742.90 243.92,743.45 243.29,744.00 242.61,744.54 241.88,745.08 241.10,745.61 240.27,746.14 239.40,746.66 238.47,747.18 237.51,747.69 236.49,748.19 235.44,748.69 234.33,749.18 233.18,749.67 231.99,750.14 230.76,750.62 229.49,751.08 228.17,751.53 226.81,751.98 225.41,752.42 223.98,752.85 222.50,753.27 220.99,753.68 219.44,754.08 217.86,754.47 216.24,754.85 214.58,755.22 212.90,755.59 211.18,755.94 209.43,756.28 209.43,782.28 211.18,781.94 212.90,781.59 214.58,781.22 216.24,780.85 217.86,780.47 219.44,780.08 220.99,779.68 222.50,779.27 223.98,778.85 225.41,778.42 226.81,777.98 228.17,777.53 229.49,777.08 230.76,776.62 231.99,776.14 233.18,775.67 234.33,775.18 235.44,774.69 236.49,774.19 237.51,773.69 238.47,773.18 239.40,772.66 240.27,772.14 241.10,771.61 241.88,771.08 242.61,770.54 243.29,770.00 243.92,769.45 244.51,768.90 245.04,768.35 245.53,767.79 245.96,767.23 246.34,766.67 246.68,766.11 246.96,765.54 247.19,764.98 247.37,764.41 247.50,763.84 247.57,763.27 247.60,762.70" fill="#fff" stroke="#000" stroke-width="0.9" stroke-linejoin="round"/>
<polygon points="155.00,736.70 155.00,712.50 160.81,712.55 166.61,712.69 172.35,712.93 178.03,713.26 183.61,713.68 189.09,714.20 194.43,714.80 199.61,715.49 204.62,716.27 209.43,717.12 214.03,718.05 218.39,719.06 222.50,720.13 226.35,721.27 229.91,722.48 233.18,723.73 236.15,725.04 238.79,726.40 241.10,727.79 243.07,729.22 244.69,730.68 245.96,732.17 246.87,733.67 247.42,735.18 247.60,736.70 247.42,738.22 246.87,739.73 245.96,741.23 244.69,742.72 243.07,744.18 241.10,745.61 238.79,747.00 236.15,748.36 233.18,749.67 229.91,750.92 226.35,752.13 222.50,753.27 218.39,754.34 214.03,755.35 209.43,756.28" fill="#fff" stroke="#000" stroke-width="0.9" stroke-linejoin="round"/>
<polygon points="155.00,736.70 209.43,756.28 206.65,756.79 203.80,757.27 200.88,757.72 197.90,758.15 194.87,758.54 191.78,758.91 188.64,759.25 185.45,759.55 182.23,759.83 178.97,760.08 175.67,760.29 172.35,760.47 169.01,760.62 165.64,760.74 162.27,760.83 158.88,760.88 155.48,760.90 152.09,760.89 148.70,760.84 145.32,760.77 141.95,760.66 138.60,760.52 135.27,760.34 131.97,760.14 128.70,759.90 125.46,759.64 122.27,759.34 119.12,759.01 116.01,758.65 112.96,758.26 109.97,757.85 107.03,757.40 104.16,756.93 101.36,756.43 98.63,755.90 95.97,755.35 93.40,754.77 90.91,754.17 88.50,753.54 86.18,752.89" fill="#b6b6b6" stroke="#000" stroke-width="0.9" stroke-linejoin="round"/>
<polygon points="155.00,736.70 86.18,752.89 82.73,751.83 79.52,750.72 76.56,749.56 73.85,748.36 71.42,747.12 69.26,745.84 67.39,744.54 65.81,743.21 64.53,741.86 63.54,740.49 62.86,739.10 62.48,737.71 62.41,736.32 62.65,734.93 63.19,733.54 64.04,732.17 65.19,730.80 66.64,729.46 68.38,728.15 70.41,726.86 72.71,725.60 75.30,724.38 78.14,723.20 81.24,722.07 84.59,720.98 88.17,719.95 91.97,718.97 95.97,718.05 100.18,717.20 104.57,716.40 109.12,715.68 113.83,715.02 118.67,714.44 123.63,713.93 128.70,713.50 133.85,713.14 139.08,712.86 144.36,712.66 149.67,712.54 155.00,712.50" fill="#000" stroke="#000" stroke-width="0.9" stroke-linejoin="round"/>
<polyline points="167.89,738.74 171.16,738.87 174.41,739.04 177.64,739.23 180.83,739.46 184.00,739.72 187.13,740.00 190.21,740.32 193.25,740.66 196.25,741.03 199.18,741.43 202.07,741.86 204.89,742.31 207.65,742.79 210.34,743.30 212.96,743.83 215.51,744.38 217.98,744.96 220.36,745.56 222.67,746.18 224.89,746.82 227.01,747.49 229.05,748.17 230.99,748.87 232.84,749.59 234.58,750.33 236.22,751.08 237.76,751.85 239.20,752.63 240.52,753.42 241.74,754.22 242.84,755.04 243.83,755.87 244.71,756.70 245.47,757.54 246.12,758.39 246.65,759.25 247.07,760.11 247.36,760.97 247.54,761.83 247.60,762.70" fill="none" stroke="#000" stroke-width="0.8"/>
<text x="49.9" y="725.8" font-size="11" font-weight="bold" text-anchor="middle" fill="#000">36,7%</text>
<text x="234.7" y="713" font-size="11" font-weight="bold" text-anchor="middle" fill="#000">40,0%</text>
<text x="139.6" y="801.3" font-size="11" font-weight="bold" text-anchor="middle" fill="#000">23,3%</text>
<rect x="345" y="712.3" width="8.3" height="8.3" fill="#fff" stroke="#333" stroke-width="1"/>
<text x="358.5" y="720.8" font-size="14.5" text-anchor="start" fill="#000">no response</text>
<rect x="345" y="740.5" width="8.3" height="8.3" fill="#b6b6b6" stroke="#333" stroke-width="1"/>
<text x="358.5" y="749.0" font-size="14.5" text-anchor="start" fill="#000">intermediate response</text>
<rect x="345" y="768.7" width="8.3" height="8.3" fill="#000" stroke="#333" stroke-width="1"/>
<text x="358.5" y="777.1999999999999" font-size="14.5" text-anchor="start" fill="#000">good response</text>
<text x="8.0" y="827.8" font-size="17" font-weight="bold" text-anchor="start" fill="#000">D</text>
<line x1="72.0" y1="858.35" x2="72.0" y2="975.3000000000001" stroke="#000" stroke-width="1.4"/>
<line x1="71.3" y1="974.6" x2="246.2" y2="974.6" stroke="#000" stroke-width="1.4"/>
<line x1="69.0" y1="974.6" x2="72.0" y2="974.6" stroke="#000" stroke-width="1.1"/>
<text x="67.7" y="977.7" font-size="8.3" font-weight="bold" text-anchor="end" fill="#000">0.0</text>
<line x1="69.0" y1="951.4" x2="72.0" y2="951.4" stroke="#000" stroke-width="1.1"/>
<text x="67.7" y="954.45" font-size="8.3" font-weight="bold" text-anchor="end" fill="#000">0.5</text>
<line x1="69.0" y1="928.1" x2="72.0" y2="928.1" stroke="#000" stroke-width="1.1"/>
<text x="67.7" y="931.2" font-size="8.3" font-weight="bold" text-anchor="end" fill="#000">1.0</text>
<line x1="69.0" y1="904.9" x2="72.0" y2="904.9" stroke="#000" stroke-width="1.1"/>
<text x="67.7" y="907.95" font-size="8.3" font-weight="bold" text-anchor="end" fill="#000">1.5</text>
<line x1="69.0" y1="881.6" x2="72.0" y2="881.6" stroke="#000" stroke-width="1.1"/>
<text x="67.7" y="884.7" font-size="8.3" font-weight="bold" text-anchor="end" fill="#000">2.0</text>
<line x1="69.0" y1="858.4" x2="72.0" y2="858.4" stroke="#000" stroke-width="1.1"/>
<text x="67.7" y="861.45" font-size="8.3" font-weight="bold" text-anchor="end" fill="#000">2.5</text>
<line x1="82.6" y1="925.3" x2="82.6" y2="928.1" stroke="#000" stroke-width="1.4"/>
<line x1="78.4" y1="925.3" x2="86.8" y2="925.3" stroke="#000" stroke-width="1.4"/>
<rect x="75.2" y="928.9" width="14.7" height="45.7" fill="#fff" stroke="#000" stroke-width="1.6"/>
<line x1="82.6" y1="974.6" x2="82.6" y2="978.4" stroke="#000" stroke-width="1.3"/>
<text x="83.55000000000001" y="986.6" font-size="8.4" font-weight="bold" text-anchor="end" fill="#000" transform="rotate(-45 83.6 986.6)">0h</text>
<line x1="104.4" y1="871.4" x2="104.4" y2="887.6" stroke="#000" stroke-width="1.4"/>
<line x1="100.2" y1="871.4" x2="108.6" y2="871.4" stroke="#000" stroke-width="1.4"/>
<rect x="97.0" y="888.4" width="14.7" height="86.2" fill="#fff" stroke="#000" stroke-width="1.6"/>
<line x1="104.4" y1="974.6" x2="104.4" y2="978.4" stroke="#000" stroke-width="1.3"/>
<text x="105.35000000000001" y="986.6" font-size="8.4" font-weight="bold" text-anchor="end" fill="#000" transform="rotate(-45 105.4 986.6)">0.33h</text>
<line x1="126.2" y1="895.6" x2="126.2" y2="909.5" stroke="#000" stroke-width="1.4"/>
<line x1="122.0" y1="895.6" x2="130.3" y2="895.6" stroke="#000" stroke-width="1.4"/>
<rect x="118.8" y="910.3" width="14.7" height="64.3" fill="#fff" stroke="#000" stroke-width="1.6"/>
<line x1="126.2" y1="974.6" x2="126.2" y2="978.4" stroke="#000" stroke-width="1.3"/>
<text x="127.15" y="986.6" font-size="8.4" font-weight="bold" text-anchor="end" fill="#000" transform="rotate(-45 127.2 986.6)">2h</text>
<line x1="148.0" y1="954.4" x2="148.0" y2="956.0" stroke="#000" stroke-width="1.4"/>
<line x1="143.8" y1="954.4" x2="152.2" y2="954.4" stroke="#000" stroke-width="1.4"/>
<rect x="140.6" y="956.8" width="14.7" height="17.8" fill="#fff" stroke="#000" stroke-width="1.6"/>
<line x1="148.0" y1="974.6" x2="148.0" y2="978.4" stroke="#000" stroke-width="1.3"/>
<text x="148.95000000000002" y="986.6" font-size="8.4" font-weight="bold" text-anchor="end" fill="#000" transform="rotate(-45 149.0 986.6)">6h</text>
<rect x="162.4" y="958.7" width="14.7" height="15.9" fill="#fff" stroke="#000" stroke-width="1.6"/>
<line x1="169.8" y1="974.6" x2="169.8" y2="978.4" stroke="#000" stroke-width="1.3"/>
<text x="170.75000000000003" y="986.6" font-size="8.4" font-weight="bold" text-anchor="end" fill="#000" transform="rotate(-45 170.8 986.6)">12h</text>
<line x1="191.6" y1="955.0" x2="191.6" y2="955.5" stroke="#000" stroke-width="1.4"/>
<line x1="187.4" y1="955.0" x2="195.8" y2="955.0" stroke="#000" stroke-width="1.4"/>
<rect x="184.2" y="956.3" width="14.7" height="18.3" fill="#fff" stroke="#000" stroke-width="1.6"/>
<line x1="191.6" y1="974.6" x2="191.6" y2="978.4" stroke="#000" stroke-width="1.3"/>
<text x="192.55" y="986.6" font-size="8.4" font-weight="bold" text-anchor="end" fill="#000" transform="rotate(-45 192.6 986.6)">24h</text>
<line x1="213.4" y1="959.5" x2="213.4" y2="960.6" stroke="#000" stroke-width="1.4"/>
<line x1="209.2" y1="959.5" x2="217.6" y2="959.5" stroke="#000" stroke-width="1.4"/>
<rect x="206.0" y="961.4" width="14.7" height="13.2" fill="#fff" stroke="#000" stroke-width="1.6"/>
<line x1="213.4" y1="974.6" x2="213.4" y2="978.4" stroke="#000" stroke-width="1.3"/>
<text x="214.35000000000002" y="986.6" font-size="8.4" font-weight="bold" text-anchor="end" fill="#000" transform="rotate(-45 214.4 986.6)">48h</text>
<line x1="235.2" y1="958.1" x2="235.2" y2="962.5" stroke="#000" stroke-width="1.4"/>
<line x1="231.0" y1="958.1" x2="239.3" y2="958.1" stroke="#000" stroke-width="1.4"/>
<rect x="227.8" y="963.3" width="14.7" height="11.3" fill="#fff" stroke="#000" stroke-width="1.6"/>
<line x1="235.2" y1="974.6" x2="235.2" y2="978.4" stroke="#000" stroke-width="1.3"/>
<text x="236.15" y="986.6" font-size="8.4" font-weight="bold" text-anchor="end" fill="#000" transform="rotate(-45 236.2 986.6)">72h</text>
<text x="150.3" y="845.8" font-size="11.25" font-weight="bold" text-anchor="middle"><tspan font-style="italic">GLI1</tspan> downregulation</text>
<text x="159.0" y="1013.2" font-size="9.5" font-weight="bold" text-anchor="middle">cyclopamine treatment</text>
<path d="M81.5 866.3000000000001 L81.5 863.1 L148.8 863.1 L148.8 866.3000000000001" fill="none" stroke="#000" stroke-width="1.2"/>
<text x="113.9" y="860.5" font-size="8.5" text-anchor="middle"><tspan font-style="italic">P</tspan>=.0045</text>
<text x="37.9" y="916.975" font-size="9.6" font-weight="bold" text-anchor="middle" transform="rotate(-90 37.9 916.975)">Relative <tspan font-style="italic">GLI1</tspan> level compared</text>
<text x="50.9" y="915.475" font-size="10" font-weight="bold" text-anchor="middle" transform="rotate(-90 50.9 915.475)">to <tspan font-style="italic">GAPDH</tspan></text>
<line x1="309.5" y1="858.35" x2="309.5" y2="975.3000000000001" stroke="#000" stroke-width="1.4"/>
<line x1="308.8" y1="974.6" x2="483.7" y2="974.6" stroke="#000" stroke-width="1.4"/>
<line x1="306.5" y1="974.6" x2="309.5" y2="974.6" stroke="#000" stroke-width="1.1"/>
<text x="305.2" y="977.7" font-size="8.3" font-weight="bold" text-anchor="end" fill="#000">0.0</text>
<line x1="306.5" y1="951.4" x2="309.5" y2="951.4" stroke="#000" stroke-width="1.1"/>
<text x="305.2" y="954.45" font-size="8.3" font-weight="bold" text-anchor="end" fill="#000">0.5</text>
<line x1="306.5" y1="928.1" x2="309.5" y2="928.1" stroke="#000" stroke-width="1.1"/>
<text x="305.2" y="931.2" font-size="8.3" font-weight="bold" text-anchor="end" fill="#000">1.0</text>
<line x1="306.5" y1="904.9" x2="309.5" y2="904.9" stroke="#000" stroke-width="1.1"/>
<text x="305.2" y="907.95" font-size="8.3" font-weight="bold" text-anchor="end" fill="#000">1.5</text>
<line x1="306.5" y1="881.6" x2="309.5" y2="881.6" stroke="#000" stroke-width="1.1"/>
<text x="305.2" y="884.7" font-size="8.3" font-weight="bold" text-anchor="end" fill="#000">2.0</text>
<line x1="306.5" y1="858.4" x2="309.5" y2="858.4" stroke="#000" stroke-width="1.1"/>
<text x="305.2" y="861.45" font-size="8.3" font-weight="bold" text-anchor="end" fill="#000">2.5</text>
<line x1="320.0" y1="925.3" x2="320.0" y2="928.1" stroke="#000" stroke-width="1.4"/>
<line x1="315.8" y1="925.3" x2="324.2" y2="925.3" stroke="#000" stroke-width="1.4"/>
<rect x="312.7" y="928.9" width="14.7" height="45.7" fill="#fff" stroke="#000" stroke-width="1.6"/>
<line x1="320.0" y1="974.6" x2="320.0" y2="978.4" stroke="#000" stroke-width="1.3"/>
<text x="321.04999999999995" y="986.6" font-size="8.4" font-weight="bold" text-anchor="end" fill="#000" transform="rotate(-45 321.0 986.6)">0h</text>
<line x1="341.8" y1="901.6" x2="341.8" y2="914.6" stroke="#000" stroke-width="1.4"/>
<line x1="337.6" y1="901.6" x2="346.0" y2="901.6" stroke="#000" stroke-width="1.4"/>
<rect x="334.5" y="915.4" width="14.7" height="59.2" fill="#fff" stroke="#000" stroke-width="1.6"/>
<line x1="341.8" y1="974.6" x2="341.8" y2="978.4" stroke="#000" stroke-width="1.3"/>
<text x="342.84999999999997" y="986.6" font-size="8.4" font-weight="bold" text-anchor="end" fill="#000" transform="rotate(-45 342.8 986.6)">0.33h</text>
<line x1="363.6" y1="957.9" x2="363.6" y2="959.3" stroke="#000" stroke-width="1.4"/>
<line x1="359.4" y1="957.9" x2="367.8" y2="957.9" stroke="#000" stroke-width="1.4"/>
<rect x="356.3" y="960.1" width="14.7" height="14.5" fill="#fff" stroke="#000" stroke-width="1.6"/>
<line x1="363.6" y1="974.6" x2="363.6" y2="978.4" stroke="#000" stroke-width="1.3"/>
<text x="364.65" y="986.6" font-size="8.4" font-weight="bold" text-anchor="end" fill="#000" transform="rotate(-45 364.6 986.6)">2h</text>
<line x1="385.4" y1="955.5" x2="385.4" y2="956.0" stroke="#000" stroke-width="1.4"/>
<line x1="381.2" y1="955.5" x2="389.6" y2="955.5" stroke="#000" stroke-width="1.4"/>
<rect x="378.1" y="956.8" width="14.7" height="17.8" fill="#fff" stroke="#000" stroke-width="1.6"/>
<line x1="385.4" y1="974.6" x2="385.4" y2="978.4" stroke="#000" stroke-width="1.3"/>
<text x="386.44999999999993" y="986.6" font-size="8.4" font-weight="bold" text-anchor="end" fill="#000" transform="rotate(-45 386.4 986.6)">6h</text>
<line x1="407.2" y1="956.0" x2="407.2" y2="956.5" stroke="#000" stroke-width="1.4"/>
<line x1="403.0" y1="956.0" x2="411.4" y2="956.0" stroke="#000" stroke-width="1.4"/>
<rect x="399.9" y="957.3" width="14.7" height="17.3" fill="#fff" stroke="#000" stroke-width="1.6"/>
<line x1="407.2" y1="974.6" x2="407.2" y2="978.4" stroke="#000" stroke-width="1.3"/>
<text x="408.24999999999994" y="986.6" font-size="8.4" font-weight="bold" text-anchor="end" fill="#000" transform="rotate(-45 408.2 986.6)">12h</text>
<line x1="429.0" y1="959.3" x2="429.0" y2="960.2" stroke="#000" stroke-width="1.4"/>
<line x1="424.8" y1="959.3" x2="433.2" y2="959.3" stroke="#000" stroke-width="1.4"/>
<rect x="421.7" y="961.0" width="14.7" height="13.6" fill="#fff" stroke="#000" stroke-width="1.6"/>
<line x1="429.0" y1="974.6" x2="429.0" y2="978.4" stroke="#000" stroke-width="1.3"/>
<text x="430.04999999999995" y="986.6" font-size="8.4" font-weight="bold" text-anchor="end" fill="#000" transform="rotate(-45 430.0 986.6)">24h</text>
<line x1="450.8" y1="952.7" x2="450.8" y2="954.1" stroke="#000" stroke-width="1.4"/>
<line x1="446.6" y1="952.7" x2="455.0" y2="952.7" stroke="#000" stroke-width="1.4"/>
<rect x="443.5" y="954.9" width="14.7" height="19.7" fill="#fff" stroke="#000" stroke-width="1.6"/>
<line x1="450.8" y1="974.6" x2="450.8" y2="978.4" stroke="#000" stroke-width="1.3"/>
<text x="451.84999999999997" y="986.6" font-size="8.4" font-weight="bold" text-anchor="end" fill="#000" transform="rotate(-45 451.8 986.6)">48h</text>
<line x1="472.6" y1="946.5" x2="472.6" y2="948.6" stroke="#000" stroke-width="1.4"/>
<line x1="468.4" y1="946.5" x2="476.8" y2="946.5" stroke="#000" stroke-width="1.4"/>
<rect x="465.3" y="949.4" width="14.7" height="25.2" fill="#fff" stroke="#000" stroke-width="1.6"/>
<line x1="472.6" y1="974.6" x2="472.6" y2="978.4" stroke="#000" stroke-width="1.3"/>
<text x="473.65" y="986.6" font-size="8.4" font-weight="bold" text-anchor="end" fill="#000" transform="rotate(-45 473.6 986.6)">72h</text>
<text x="387.5" y="845.8" font-size="11.25" font-weight="bold" text-anchor="middle"><tspan font-style="italic">PTCH1</tspan> downregulation</text>
<text x="396.5" y="1013.2" font-size="9.5" font-weight="bold" text-anchor="middle">cyclopamine treatment</text>
<path d="M319.2 896.5 L319.2 893.3 L365.2 893.3 L365.2 896.5" fill="none" stroke="#000" stroke-width="1.2"/>
<text x="341.9" y="890.6999999999999" font-size="8.5" text-anchor="middle"><tspan font-style="italic">P</tspan>=.0025</text>
<text x="275.6" y="916.975" font-size="9.6" font-weight="bold" text-anchor="middle" transform="rotate(-90 275.6 916.975)">Relative <tspan font-style="italic">PTCH1</tspan> level compared</text>
<text x="289.90000000000003" y="915.475" font-size="10" font-weight="bold" text-anchor="middle" transform="rotate(-90 289.90000000000003 915.475)">to <tspan font-style="italic">GAPDH</tspan></text>
</svg>
</body></html>
